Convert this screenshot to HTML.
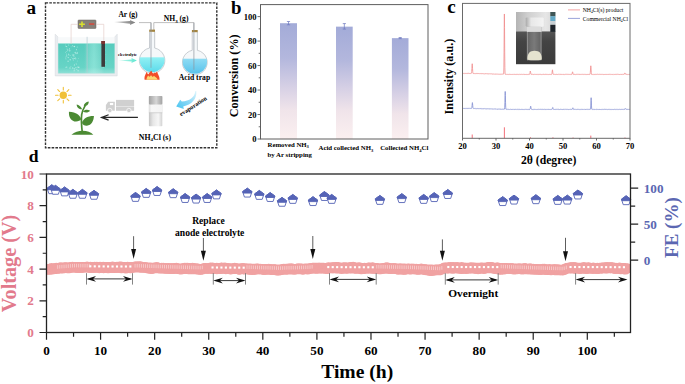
<!DOCTYPE html>
<html><head><meta charset="utf-8"><style>
html,body{margin:0;padding:0;background:#fff;width:685px;height:384px;overflow:hidden;}
svg{display:block;}
</style></head><body>
<svg width="685" height="384" viewBox="0 0 685 384">
<rect width="685" height="384" fill="#fff"/>
<g id="pa">
<text x="26.6" y="13.6" font-size="19.2" font-family="Liberation Serif" font-weight="bold">a</text>
<rect x="45.5" y="2.9" width="171.3" height="144.9" fill="none" stroke="#333" stroke-width="1.4" stroke-dasharray="2.6 1.2"/>
<rect x="78" y="20" width="18" height="8.5" rx="0.8" fill="#868079" stroke="#6a655f" stroke-width="0.5"/>
<path d="M79.1,24.2 h5.8 M82,21.4 v5.6" stroke="#d9e02e" stroke-width="1.6"/>
<path d="M89,24.05 h5.3" stroke="#d8483a" stroke-width="1.5"/>
<path d="M55.2,34.2 L58.2,37.2 V73.4 H114.6 V37.2 L117.2,34.2 V75.9 H55.2 Z" fill="#eaedf0" stroke="#d2d7db" stroke-width="0.5"/>
<rect x="58.2" y="37.2" width="56.4" height="6.4" fill="#f7f9fa"/>
<defs><linearGradient id="wat" x1="0" y1="0" x2="0" y2="1"><stop offset="0" stop-color="#57cbbd"/><stop offset="0.8" stop-color="#66d4c6"/><stop offset="1" stop-color="#8fe0d6"/></linearGradient><linearGradient id="wat2" x1="0" y1="0" x2="1" y2="0"><stop offset="0" stop-color="#fff" stop-opacity="0"/><stop offset="0.5" stop-color="#c8fff6" stop-opacity="0.35"/><stop offset="1" stop-color="#fff" stop-opacity="0"/></linearGradient></defs>
<rect x="58.2" y="43.4" width="56.4" height="30" fill="url(#wat)"/>
<rect x="84" y="43.4" width="20" height="30" fill="url(#wat2)"/>
<rect x="58.2" y="43.1" width="56.4" height="0.8" fill="#a6e6dc"/>
<circle cx="69.5" cy="48.9" r="0.58" fill="#c2f0ea" opacity="0.8"/>
<circle cx="66.0" cy="58.9" r="0.48" fill="#c2f0ea" opacity="0.8"/>
<circle cx="65.8" cy="58.2" r="0.36" fill="#c2f0ea" opacity="0.8"/>
<circle cx="71.1" cy="46.8" r="0.38" fill="#c2f0ea" opacity="0.8"/>
<circle cx="70.9" cy="66.5" r="0.39" fill="#c2f0ea" opacity="0.8"/>
<circle cx="68.1" cy="61.3" r="0.68" fill="#c2f0ea" opacity="0.8"/>
<circle cx="73.1" cy="55.3" r="0.69" fill="#c2f0ea" opacity="0.8"/>
<circle cx="65.7" cy="67.3" r="0.45" fill="#c2f0ea" opacity="0.8"/>
<circle cx="67.0" cy="48.1" r="0.46" fill="#c2f0ea" opacity="0.8"/>
<circle cx="76.4" cy="49.7" r="0.55" fill="#c2f0ea" opacity="0.8"/>
<circle cx="73.9" cy="54.7" r="0.54" fill="#c2f0ea" opacity="0.8"/>
<circle cx="65.9" cy="46.5" r="0.42" fill="#c2f0ea" opacity="0.8"/>
<circle cx="74.5" cy="56.1" r="0.46" fill="#c2f0ea" opacity="0.8"/>
<circle cx="73.2" cy="56.8" r="0.45" fill="#c2f0ea" opacity="0.8"/>
<circle cx="76.1" cy="63.2" r="0.44" fill="#c2f0ea" opacity="0.8"/>
<circle cx="73.0" cy="58.7" r="0.66" fill="#c2f0ea" opacity="0.8"/>
<circle cx="75.2" cy="52.5" r="0.69" fill="#c2f0ea" opacity="0.8"/>
<circle cx="66.7" cy="55.9" r="0.61" fill="#c2f0ea" opacity="0.8"/>
<circle cx="67.1" cy="57.7" r="0.36" fill="#c2f0ea" opacity="0.8"/>
<circle cx="74.4" cy="64.9" r="0.55" fill="#c2f0ea" opacity="0.8"/>
<circle cx="77.3" cy="53.2" r="0.59" fill="#c2f0ea" opacity="0.8"/>
<circle cx="73.3" cy="60.1" r="0.51" fill="#c2f0ea" opacity="0.8"/>
<circle cx="76.8" cy="69.6" r="0.52" fill="#c2f0ea" opacity="0.8"/>
<circle cx="74.3" cy="46.6" r="0.60" fill="#c2f0ea" opacity="0.8"/>
<circle cx="74.1" cy="70.8" r="0.64" fill="#c2f0ea" opacity="0.8"/>
<circle cx="69.0" cy="55.0" r="0.58" fill="#c2f0ea" opacity="0.8"/>
<circle cx="65.3" cy="57.0" r="0.41" fill="#c2f0ea" opacity="0.8"/>
<circle cx="66.6" cy="46.5" r="0.62" fill="#c2f0ea" opacity="0.8"/>
<circle cx="66.8" cy="51.4" r="0.49" fill="#c2f0ea" opacity="0.8"/>
<circle cx="77.2" cy="47.1" r="0.51" fill="#c2f0ea" opacity="0.8"/>
<circle cx="72.7" cy="68.0" r="0.64" fill="#c2f0ea" opacity="0.8"/>
<circle cx="77.1" cy="52.2" r="0.50" fill="#c2f0ea" opacity="0.8"/>
<circle cx="70.0" cy="68.0" r="0.69" fill="#c2f0ea" opacity="0.8"/>
<circle cx="67.1" cy="49.6" r="0.43" fill="#c2f0ea" opacity="0.8"/>
<circle cx="68.3" cy="57.6" r="0.56" fill="#c2f0ea" opacity="0.8"/>
<circle cx="68.7" cy="45.1" r="0.50" fill="#c2f0ea" opacity="0.8"/>
<circle cx="70.2" cy="59.7" r="0.68" fill="#c2f0ea" opacity="0.8"/>
<circle cx="74.7" cy="58.4" r="0.57" fill="#c2f0ea" opacity="0.8"/>
<circle cx="74.5" cy="46.4" r="0.66" fill="#c2f0ea" opacity="0.8"/>
<circle cx="75.9" cy="67.7" r="0.63" fill="#c2f0ea" opacity="0.8"/>
<circle cx="70.5" cy="55.4" r="0.39" fill="#c2f0ea" opacity="0.8"/>
<circle cx="73.9" cy="46.6" r="0.37" fill="#c2f0ea" opacity="0.8"/>
<circle cx="67.9" cy="49.2" r="0.47" fill="#c2f0ea" opacity="0.8"/>
<circle cx="65.7" cy="45.0" r="0.40" fill="#c2f0ea" opacity="0.8"/>
<circle cx="66.4" cy="54.5" r="0.36" fill="#c2f0ea" opacity="0.8"/>
<circle cx="77.2" cy="61.0" r="0.40" fill="#c2f0ea" opacity="0.8"/>
<circle cx="68.5" cy="54.0" r="0.48" fill="#c2f0ea" opacity="0.8"/>
<circle cx="66.7" cy="67.1" r="0.70" fill="#c2f0ea" opacity="0.8"/>
<circle cx="71.5" cy="57.6" r="0.38" fill="#c2f0ea" opacity="0.8"/>
<circle cx="66.4" cy="53.9" r="0.44" fill="#c2f0ea" opacity="0.8"/>
<circle cx="76.6" cy="49.2" r="0.36" fill="#c2f0ea" opacity="0.8"/>
<circle cx="78.3" cy="58.7" r="0.40" fill="#c2f0ea" opacity="0.8"/>
<circle cx="72.6" cy="45.7" r="0.53" fill="#c2f0ea" opacity="0.8"/>
<circle cx="78.7" cy="67.4" r="0.59" fill="#c2f0ea" opacity="0.8"/>
<circle cx="68.7" cy="54.5" r="0.41" fill="#c2f0ea" opacity="0.8"/>
<circle cx="75.8" cy="58.8" r="0.62" fill="#c2f0ea" opacity="0.8"/>
<circle cx="69.6" cy="50.8" r="0.63" fill="#c2f0ea" opacity="0.8"/>
<circle cx="78.8" cy="67.2" r="0.63" fill="#c2f0ea" opacity="0.8"/>
<circle cx="76.5" cy="64.2" r="0.43" fill="#c2f0ea" opacity="0.8"/>
<circle cx="72.2" cy="54.2" r="0.36" fill="#c2f0ea" opacity="0.8"/>
<circle cx="65.4" cy="52.3" r="0.44" fill="#c2f0ea" opacity="0.8"/>
<circle cx="74.7" cy="69.9" r="0.51" fill="#c2f0ea" opacity="0.8"/>
<circle cx="78.1" cy="70.7" r="0.68" fill="#c2f0ea" opacity="0.8"/>
<circle cx="70.1" cy="50.7" r="0.43" fill="#c2f0ea" opacity="0.8"/>
<circle cx="67.8" cy="50.3" r="0.57" fill="#c2f0ea" opacity="0.8"/>
<circle cx="77.6" cy="66.9" r="0.52" fill="#c2f0ea" opacity="0.8"/>
<circle cx="74.1" cy="65.8" r="0.38" fill="#c2f0ea" opacity="0.8"/>
<circle cx="74.2" cy="68.7" r="0.62" fill="#c2f0ea" opacity="0.8"/>
<circle cx="75.5" cy="57.4" r="0.41" fill="#c2f0ea" opacity="0.8"/>
<circle cx="76.0" cy="53.6" r="0.63" fill="#c2f0ea" opacity="0.8"/>
<circle cx="105.9" cy="54.5" r="0.35" fill="#b8ece4" opacity="0.7"/>
<circle cx="103.0" cy="67.7" r="0.35" fill="#b8ece4" opacity="0.7"/>
<circle cx="104.6" cy="49.1" r="0.35" fill="#b8ece4" opacity="0.7"/>
<circle cx="101.6" cy="48.6" r="0.35" fill="#b8ece4" opacity="0.7"/>
<circle cx="105.5" cy="64.4" r="0.35" fill="#b8ece4" opacity="0.7"/>
<circle cx="101.7" cy="64.8" r="0.35" fill="#b8ece4" opacity="0.7"/>
<circle cx="105.9" cy="60.8" r="0.35" fill="#b8ece4" opacity="0.7"/>
<circle cx="102.8" cy="58.2" r="0.35" fill="#b8ece4" opacity="0.7"/>
<circle cx="101.7" cy="45.3" r="0.35" fill="#b8ece4" opacity="0.7"/>
<circle cx="105.9" cy="60.6" r="0.35" fill="#b8ece4" opacity="0.7"/>
<circle cx="103.6" cy="67.4" r="0.35" fill="#b8ece4" opacity="0.7"/>
<circle cx="103.2" cy="65.9" r="0.35" fill="#b8ece4" opacity="0.7"/>
<circle cx="105.1" cy="50.1" r="0.35" fill="#b8ece4" opacity="0.7"/>
<circle cx="102.3" cy="52.0" r="0.35" fill="#b8ece4" opacity="0.7"/>
<circle cx="102.2" cy="59.1" r="0.35" fill="#b8ece4" opacity="0.7"/>
<circle cx="102.3" cy="55.1" r="0.35" fill="#b8ece4" opacity="0.7"/>
<circle cx="101.7" cy="66.8" r="0.35" fill="#b8ece4" opacity="0.7"/>
<circle cx="102.8" cy="56.0" r="0.35" fill="#b8ece4" opacity="0.7"/>
<circle cx="103.9" cy="66.7" r="0.35" fill="#b8ece4" opacity="0.7"/>
<circle cx="103.1" cy="67.0" r="0.35" fill="#b8ece4" opacity="0.7"/>
<circle cx="103.5" cy="57.8" r="0.35" fill="#b8ece4" opacity="0.7"/>
<circle cx="103.6" cy="45.4" r="0.35" fill="#b8ece4" opacity="0.7"/>
<circle cx="103.2" cy="49.4" r="0.35" fill="#b8ece4" opacity="0.7"/>
<circle cx="101.0" cy="64.2" r="0.35" fill="#b8ece4" opacity="0.7"/>
<circle cx="101.9" cy="56.4" r="0.35" fill="#b8ece4" opacity="0.7"/>
<path d="M87.1,36.8 V72.8" stroke="#b7ccd2" stroke-width="0.7"/>
<path d="M78,24.3 H71.1 V44 M96,24.3 H103.8 V41" fill="none" stroke="#e3cbc6" stroke-width="0.65"/>
<rect x="101.4" y="41" width="3.6" height="25.8" fill="#3c3b3b"/>
<rect x="101.4" y="41" width="3.6" height="3" fill="#7c3230"/>
<defs><linearGradient id="ga" x1="0" y1="0" x2="1" y2="0"><stop offset="0" stop-color="#d8d8d8"/><stop offset="0.6" stop-color="#9a9a9a"/><stop offset="1" stop-color="#7c7c7c"/></linearGradient></defs>
<path d="M114,21.9 L130.2,21.0 L129.9,20.0 L135.4,22.45 L129.9,24.9 L130.2,23.8 Z" fill="url(#ga)"/>
<text x="118.4" y="17.4" font-size="7.5" font-family="Liberation Serif" font-weight="bold">Ar (g)</text>
<text x="118" y="56" font-size="4.3" font-family="Liberation Serif" font-weight="bold">electrolyte</text>
<defs><linearGradient id="ea" x1="0" y1="0" x2="1" y2="0"><stop offset="0" stop-color="#d6faf2"/><stop offset="0.6" stop-color="#86eedd"/><stop offset="1" stop-color="#5ee6d0"/></linearGradient></defs>
<path d="M118.3,60.4 L131.8,59.4 L131.4,57.9 L136.9,60.4 L131.4,62.9 L131.8,61.5 Z" fill="url(#ea)"/>
<path d="M139,22.6 H151 V67.8 M153.8,48.7 V22.6 H193.9 V69.7" fill="none" stroke="#aeaeae" stroke-width="0.8"/>
<defs><linearGradient id="fw" x1="0" y1="0" x2="0" y2="1"><stop offset="0" stop-color="#92f1f4"/><stop offset="1" stop-color="#5cd9ea"/></linearGradient><linearGradient id="fw2" x1="0" y1="0" x2="0" y2="1"><stop offset="0" stop-color="#8fdcf4"/><stop offset="1" stop-color="#58c2ea"/></linearGradient><clipPath id="c1"><circle cx="152.1" cy="59.6" r="12.6"/></clipPath><clipPath id="c2"><circle cx="194.8" cy="61.5" r="12.3"/></clipPath></defs>
<path d="M149.5,31.6 V48.050000000000004 A12.75,12.75 0 1 0 154.7,48.050000000000004 V31.6" fill="#f5f8fa" stroke="#a7afb6" stroke-width="0.6"/>
<rect x="139.35" y="57.3" width="25.5" height="15.049999999999997" fill="url(#fw)" clip-path="url(#c1)"/>
<rect x="149.2" y="29.6" width="5.8" height="2.2" fill="#a3843f"/>
<path d="M192.20000000000002,32.0 V50.300000000000004 A12.4,12.4 0 1 0 197.4,50.300000000000004 V32.0" fill="#f5f8fa" stroke="#a7afb6" stroke-width="0.6"/>
<rect x="182.4" y="58.7" width="24.8" height="15.200000000000003" fill="url(#fw2)" clip-path="url(#c2)"/>
<rect x="191.9" y="30.0" width="5.8" height="2.2" fill="#a3843f"/>
<path d="M151,22.6 V67.8 M193.9,22.6 V69.7" stroke="#8f979e" stroke-width="0.7"/>
<path d="M144.6,79.7 C144,76 146,74 146.5,71.8 C147.5,74 148.5,75 149,73.5 C149.6,72 150.5,71.5 151.6,70.8 C152,73 153.5,74.5 154.5,72.6 C155.5,73.5 156.2,72.8 157,71.5 C157.5,74 159.8,76 159.6,79.7 Z" fill="#f24e2a"/>
<path d="M146.5,79.7 C146.5,77.5 147.5,76.5 148.2,75.5 C149,77 150,77.3 151,75 C152,77 153,77.5 154,75.8 C155,77 157.5,78 157.6,79.7 Z" fill="#fbd873"/>
<text x="163.8" y="21.3" font-size="7.6" font-family="Liberation Serif" font-weight="bold">NH<tspan font-size="5" dy="1.5">3</tspan><tspan dy="-1.5"> (g)</tspan></text>
<text x="178.8" y="80.3" font-size="7.7" font-family="Liberation Serif" font-weight="bold">Acid trap</text>
<circle cx="63.3" cy="95.2" r="3.7" fill="#f0c138"/>
<path d="M68.50,95.20 L71.10,95.20 M66.98,98.88 L68.82,100.72 M63.30,100.40 L63.30,103.00 M59.62,98.88 L57.78,100.72 M58.10,95.20 L55.50,95.20 M59.62,91.52 L57.78,89.68 M63.30,90.00 L63.30,87.40 M66.98,91.52 L68.82,89.68" stroke="#f0c138" stroke-width="1.1" stroke-linecap="round"/>
<path d="M71.46,134.67 C74.38,131.85 78.54,130.81 82.71,130.71 C86.88,130.81 91.04,131.85 93.33,134.67 Z" fill="#4b8a33"/>
<path d="M82.29,132.58 C81.67,127.17 81.15,118.83 81.67,114.67 C82.19,110.50 83.75,107.90 85.31,105.29" fill="none" stroke="#4b8a33" stroke-width="1.7"/>
<path d="M81.15,119.35 C79.58,114.67 76.46,112.58 68.96,111.85 C68.65,116.23 70.21,120.40 74.38,121.44 C77.50,121.96 80.10,120.92 81.15,119.35 Z" fill="#4b8a33"/>
<path d="M81.98,123.00 C83.23,118.31 87.40,115.92 93.96,116.02 C93.65,120.92 91.56,125.29 86.88,125.71 C84.27,125.81 82.50,124.56 81.98,123.00 Z" fill="#4b8a33"/>
<path d="M82.19,109.25 C80.62,106.33 79.06,104.77 76.67,104.46 C76.67,107.38 79.06,109.46 82.19,109.25 Z" fill="#4b8a33"/>
<path d="M82.92,111.54 C84.79,109.46 87.40,109.25 90.21,110.71 C88.44,112.58 85.31,113.10 82.92,111.54 Z" fill="#4b8a33"/>
<path d="M83.75,106.33 C83.75,103.73 85.83,101.96 88.75,101.44 C88.75,104.25 86.88,106.33 83.75,106.33 Z" fill="#4b8a33"/>
<rect x="116" y="99.9" width="18.1" height="6.6" fill="#d0d0d0"/>
<rect x="116" y="106.9" width="18.1" height="3.9" fill="#d0d0d0"/>
<path d="M105.9,110.8 V105 L108.2,101.8 H114.8 V110.8 Z" fill="#d0d0d0"/>
<rect x="109.9" y="103" width="3.3" height="2.1" fill="#fff"/>
<circle cx="109.8" cy="110.5" r="2.2" fill="#d0d0d0" stroke="#fff" stroke-width="0.7"/><circle cx="128.9" cy="110.5" r="2.2" fill="#d0d0d0" stroke="#fff" stroke-width="0.7"/>
<path d="M137.9,117.4 H101.8 M108.6,114.8 L101.5,117.4 L108.6,120.1" fill="none" stroke="#262626" stroke-width="1.2"/>
<defs><linearGradient id="vb" x1="0" y1="0" x2="1" y2="0"><stop offset="0" stop-color="#c4c4c4"/><stop offset="0.3" stop-color="#e6e6e6"/><stop offset="0.7" stop-color="#f6f6f6"/><stop offset="1" stop-color="#d2d2d2"/></linearGradient><linearGradient id="vu" x1="0" y1="0" x2="1" y2="0"><stop offset="0" stop-color="#dedede"/><stop offset="0.2" stop-color="#f7f7f7"/><stop offset="1" stop-color="#f3f3f3"/></linearGradient><linearGradient id="vc" x1="0" y1="0" x2="1" y2="0"><stop offset="0" stop-color="#a2a2a2"/><stop offset="0.35" stop-color="#c4c4c4"/><stop offset="0.55" stop-color="#d6d6d6"/><stop offset="0.75" stop-color="#bdbdbd"/><stop offset="1" stop-color="#a4a4a4"/></linearGradient></defs>
<rect x="148.9" y="96" width="13.4" height="30.2" rx="0.8" fill="url(#vb)"/>
<rect x="148.9" y="104.3" width="13.4" height="8.3" fill="url(#vu)"/>
<rect x="148.9" y="96" width="13.4" height="8.4" rx="0.8" fill="url(#vc)"/>
<rect x="148.9" y="112.5" width="13.4" height="0.7" fill="#c6c6c6"/>
<defs><linearGradient id="ca" x1="1" y1="0" x2="0" y2="1"><stop offset="0" stop-color="#e0f6fd"/><stop offset="0.5" stop-color="#8ad8f6"/><stop offset="1" stop-color="#48c4f0"/></linearGradient></defs>
<path d="M195.2,91.2 C194.8,97.5 189.5,100.8 181.8,101.6 L180.2,99.8 L176.2,106.4 L183.9,108.9 L183.2,106.4 C191.5,104.8 197.2,99 196.3,91.0 Z" fill="url(#ca)"/>
<text transform="translate(181.1,116.3) rotate(-33)" font-size="6.1" font-family="Liberation Serif" font-weight="bold">evaporation</text>
<text x="138.8" y="139.9" font-size="7.8" font-family="Liberation Serif" font-weight="bold">NH<tspan font-size="5" dy="1.5">4</tspan><tspan dy="-1.5">Cl (s)</tspan></text>
</g>
<g id="pb">
<text x="231" y="13.8" font-size="18.8" font-family="Liberation Serif" font-weight="bold">b</text>
<defs><linearGradient id="bg" x1="0" y1="0" x2="0" y2="1"><stop offset="0" stop-color="#a3abd8"/><stop offset="0.3" stop-color="#b3b7dd"/><stop offset="0.55" stop-color="#d6d0e5"/><stop offset="0.75" stop-color="#f0e4ea"/><stop offset="1" stop-color="#fbf0f0"/></linearGradient></defs>
<rect x="280" y="23.21" width="17.00" height="115.79" fill="url(#bg)"/>
<path d="M288.50,21.50 V24.80 M286.90,21.50 h3.2 M286.90,24.80 h3.2" stroke="#6c77bf" stroke-width="0.7"/>
<rect x="336" y="26.64" width="16.70" height="112.36" fill="url(#bg)"/>
<path d="M344.35,23.58 V29.08 M342.75,23.58 h3.2 M342.75,29.08 h3.2" stroke="#6c77bf" stroke-width="0.7"/>
<rect x="391.9" y="38.14" width="16.60" height="100.86" fill="url(#bg)"/>
<path d="M400.20,37.53 V38.63 M398.60,37.53 h3.2 M398.60,38.63 h3.2" stroke="#6c77bf" stroke-width="0.7"/>
<rect x="260.5" y="4.6" width="167.5" height="134.4" fill="none" stroke="#5e5e5e" stroke-width="1"/>
<path d="M260.5,139.00 h-3 M260.5,126.76 h-1.8 M260.5,114.52 h-3 M260.5,102.28 h-1.8 M260.5,90.04 h-3 M260.5,77.80 h-1.8 M260.5,65.56 h-3 M260.5,53.32 h-1.8 M260.5,41.08 h-3 M260.5,28.84 h-1.8 M260.5,16.60 h-3" stroke="#5e5e5e" stroke-width="0.9"/>
<text x="256.6" y="142.00" font-size="8.6" text-anchor="end" font-family="Liberation Serif" font-weight="bold">0</text>
<text x="256.6" y="117.52" font-size="8.6" text-anchor="end" font-family="Liberation Serif" font-weight="bold">20</text>
<text x="256.6" y="93.04" font-size="8.6" text-anchor="end" font-family="Liberation Serif" font-weight="bold">40</text>
<text x="256.6" y="68.56" font-size="8.6" text-anchor="end" font-family="Liberation Serif" font-weight="bold">60</text>
<text x="256.6" y="44.08" font-size="8.6" text-anchor="end" font-family="Liberation Serif" font-weight="bold">80</text>
<text x="256.6" y="19.60" font-size="8.6" text-anchor="end" font-family="Liberation Serif" font-weight="bold">100</text>
<text transform="translate(238.3,75.8) rotate(-90)" font-size="12.2" text-anchor="middle" font-family="Liberation Serif" font-weight="bold">Conversion (%)</text>
<text x="267.5" y="147.0" font-size="6.8" font-family="Liberation Serif" font-weight="bold">Removed NH<tspan font-size="4.6" dy="1.3">3</tspan></text>
<text x="267.5" y="156.7" font-size="6.8" font-family="Liberation Serif" font-weight="bold">by Ar stripping</text>
<text x="318.5" y="150.2" font-size="6.8" font-family="Liberation Serif" font-weight="bold">Acid collected NH<tspan font-size="4.6" dy="1.3">3</tspan></text>
<text x="380.2" y="150.2" font-size="6.8" font-family="Liberation Serif" font-weight="bold">Collected NH<tspan font-size="4.6" dy="1.3">4</tspan><tspan dy="-1.3">Cl</tspan></text>
</g>
<g id="pc">
<text x="447.3" y="13" font-size="19" font-family="Liberation Serif" font-weight="bold">c</text>
<path d="M462.50,73.46 L462.67,73.41 L462.83,73.36 L463.00,73.40 L463.17,73.41 L463.34,73.47 L463.50,73.30 L463.67,73.42 L463.84,73.34 L464.01,73.34 L464.18,73.47 L464.34,73.40 L464.51,73.42 L464.68,73.46 L464.85,73.50 L465.01,73.39 L465.18,73.43 L465.35,73.40 L465.52,73.40 L465.68,73.45 L465.85,73.39 L466.02,73.41 L466.19,73.39 L466.35,73.51 L466.52,73.45 L466.69,73.49 L466.86,73.51 L467.02,73.34 L467.19,73.41 L467.36,73.51 L467.53,73.48 L467.69,73.31 L467.86,73.31 L468.03,73.39 L468.20,73.29 L468.36,73.34 L468.53,73.29 L468.70,73.44 L468.87,73.47 L469.03,73.50 L469.20,73.31 L469.37,73.46 L469.54,73.45 L469.70,73.32 L469.87,73.51 L470.04,73.54 L470.21,73.35 L470.37,73.54 L470.54,73.41 L470.71,73.43 L470.88,73.56 L471.04,73.53 L471.21,73.35 L471.38,73.31 L471.55,72.85 L471.71,71.37 L471.88,68.50 L472.05,65.19 L472.22,63.73 L472.38,65.12 L472.55,68.60 L472.72,71.42 L472.89,72.76 L473.05,73.33 L473.22,73.51 L473.39,73.51 L473.56,73.40 L473.72,73.63 L473.89,73.59 L474.06,73.64 L474.23,73.43 L474.39,73.47 L474.56,73.42 L474.73,73.61 L474.90,73.48 L475.06,73.45 L475.23,73.53 L475.40,73.66 L475.57,73.64 L475.73,73.50 L475.90,73.48 L476.07,73.68 L476.24,73.59 L476.40,73.63 L476.57,73.48 L476.74,73.48 L476.91,73.64 L477.07,73.58 L477.24,73.49 L477.41,73.71 L477.58,73.64 L477.74,73.69 L477.91,73.51 L478.08,73.71 L478.25,73.52 L478.41,73.72 L478.58,73.62 L478.75,73.60 L478.92,73.65 L479.08,73.75 L479.25,73.59 L479.42,73.56 L479.59,73.67 L479.75,73.60 L479.92,73.57 L480.09,73.59 L480.26,73.56 L480.42,73.60 L480.59,73.64 L480.76,73.64 L480.93,73.76 L481.09,73.64 L481.26,73.70 L481.43,73.62 L481.60,73.67 L481.76,73.59 L481.93,73.65 L482.10,73.60 L482.27,73.78 L482.43,73.74 L482.60,73.66 L482.77,73.73 L482.94,73.85 L483.10,73.65 L483.27,73.83 L483.44,73.74 L483.61,73.76 L483.77,73.85 L483.94,73.74 L484.11,73.77 L484.28,73.82 L484.44,73.90 L484.61,73.74 L484.78,73.87 L484.95,73.84 L485.11,73.83 L485.28,73.78 L485.45,73.77 L485.62,73.70 L485.78,73.72 L485.95,73.71 L486.12,73.88 L486.29,73.76 L486.45,73.74 L486.62,73.73 L486.79,73.92 L486.96,73.93 L487.12,73.89 L487.29,73.80 L487.46,73.79 L487.63,73.81 L487.79,73.85 L487.96,73.78 L488.13,73.86 L488.30,73.82 L488.46,73.99 L488.63,74.00 L488.80,73.90 L488.97,73.83 L489.13,74.01 L489.30,73.85 L489.47,73.87 L489.64,73.78 L489.80,73.88 L489.97,73.91 L490.14,73.92 L490.31,73.85 L490.47,73.93 L490.64,73.81 L490.81,73.88 L490.98,73.84 L491.14,73.92 L491.31,73.84 L491.48,73.83 L491.65,73.91 L491.81,73.90 L491.98,73.99 L492.15,73.98 L492.32,74.04 L492.48,74.02 L492.65,74.04 L492.82,74.08 L492.99,73.96 L493.15,73.95 L493.32,74.12 L493.49,73.92 L493.66,74.06 L493.82,74.05 L493.99,73.90 L494.16,74.10 L494.33,74.12 L494.49,74.06 L494.66,74.09 L494.83,74.12 L495.00,73.95 L495.16,74.05 L495.33,74.05 L495.50,74.14 L495.67,74.13 L495.83,74.14 L496.00,74.09 L496.17,74.17 L496.34,74.12 L496.50,74.13 L496.67,74.02 L496.84,73.97 L497.01,74.00 L497.17,74.06 L497.34,74.00 L497.51,74.19 L497.68,74.12 L497.84,74.14 L498.01,74.15 L498.18,74.17 L498.35,74.12 L498.51,74.00 L498.68,74.21 L498.85,74.20 L499.02,74.14 L499.18,74.15 L499.35,74.19 L499.52,74.05 L499.69,74.22 L499.85,74.10 L500.02,74.06 L500.19,74.11 L500.36,74.23 L500.52,74.11 L500.69,74.24 L500.86,74.31 L501.03,74.19 L501.19,74.17 L501.36,74.19 L501.53,74.25 L501.70,74.28 L501.86,74.24 L502.03,74.25 L502.20,74.12 L502.37,74.14 L502.53,74.17 L502.70,74.29 L502.87,74.19 L503.04,74.26 L503.20,74.12 L503.37,74.13 L503.54,74.08 L503.71,73.20 L503.87,67.95 L504.04,52.13 L504.21,27.26 L504.38,13.98 L504.54,27.31 L504.71,52.09 L504.88,67.84 L505.05,73.29 L505.21,74.10 L505.38,74.41 L505.55,74.41 L505.72,74.19 L505.88,74.30 L506.05,74.40 L506.22,74.44 L506.39,74.31 L506.55,74.27 L506.72,74.26 L506.89,74.45 L507.06,74.27 L507.22,74.37 L507.39,74.26 L507.56,74.36 L507.73,74.47 L507.89,74.27 L508.06,74.45 L508.23,74.37 L508.40,74.47 L508.56,74.43 L508.73,74.32 L508.90,74.49 L509.07,74.39 L509.23,74.28 L509.40,74.28 L509.57,74.40 L509.74,74.39 L509.90,74.35 L510.07,74.31 L510.24,74.36 L510.41,74.35 L510.57,74.49 L510.74,74.28 L510.91,74.46 L511.08,74.48 L511.24,74.31 L511.41,74.51 L511.58,74.45 L511.75,74.50 L511.91,74.35 L512.08,74.37 L512.25,74.37 L512.41,74.52 L512.58,74.42 L512.75,74.37 L512.92,74.38 L513.09,74.34 L513.25,74.29 L513.42,74.30 L513.59,74.48 L513.75,74.35 L513.92,74.51 L514.09,74.34 L514.26,74.34 L514.42,74.40 L514.59,74.32 L514.76,74.37 L514.93,74.51 L515.09,74.50 L515.26,74.48 L515.43,74.43 L515.60,74.50 L515.76,74.51 L515.93,74.41 L516.10,74.45 L516.27,74.29 L516.43,74.46 L516.60,74.39 L516.77,74.46 L516.94,74.44 L517.10,74.35 L517.27,74.29 L517.44,74.51 L517.61,74.31 L517.77,74.39 L517.94,74.36 L518.11,74.35 L518.28,74.46 L518.44,74.52 L518.61,74.34 L518.78,74.44 L518.95,74.35 L519.11,74.41 L519.28,74.37 L519.45,74.32 L519.62,74.32 L519.78,74.33 L519.95,74.50 L520.12,74.40 L520.29,74.33 L520.45,74.50 L520.62,74.52 L520.79,74.39 L520.96,74.31 L521.12,74.32 L521.29,74.30 L521.46,74.36 L521.63,74.30 L521.79,74.33 L521.96,74.34 L522.13,74.42 L522.30,74.50 L522.46,74.46 L522.63,74.38 L522.80,74.38 L522.97,74.41 L523.13,74.37 L523.30,74.36 L523.47,74.29 L523.64,74.34 L523.80,74.52 L523.97,74.31 L524.14,74.40 L524.31,74.43 L524.47,74.49 L524.64,74.33 L524.81,74.34 L524.98,74.34 L525.14,74.37 L525.31,74.39 L525.48,74.51 L525.65,74.49 L525.81,74.49 L525.98,74.28 L526.15,74.28 L526.32,74.45 L526.48,74.50 L526.65,74.39 L526.82,74.42 L526.99,74.28 L527.15,74.37 L527.32,74.51 L527.49,74.48 L527.66,74.49 L527.82,74.52 L527.99,74.34 L528.16,74.30 L528.33,74.31 L528.49,74.41 L528.66,74.45 L528.83,74.51 L529.00,74.46 L529.16,74.44 L529.33,74.46 L529.50,74.34 L529.67,74.20 L529.83,73.55 L530.00,72.72 L530.17,71.39 L530.34,71.00 L530.50,71.49 L530.67,72.60 L530.84,73.57 L531.01,74.12 L531.17,74.39 L531.34,74.44 L531.51,74.30 L531.68,74.29 L531.84,74.41 L532.01,74.42 L532.18,74.37 L532.35,74.33 L532.51,74.43 L532.68,74.28 L532.85,74.35 L533.02,74.39 L533.18,74.51 L533.35,74.44 L533.52,74.50 L533.69,74.39 L533.85,74.33 L534.02,74.34 L534.19,74.52 L534.36,74.45 L534.52,74.35 L534.69,74.28 L534.86,74.40 L535.03,74.44 L535.19,74.38 L535.36,74.34 L535.53,74.44 L535.70,74.51 L535.86,74.33 L536.03,74.28 L536.20,74.36 L536.37,74.38 L536.53,74.45 L536.70,74.32 L536.87,74.47 L537.04,74.46 L537.20,74.40 L537.37,74.33 L537.54,74.52 L537.71,74.35 L537.87,74.48 L538.04,74.33 L538.21,74.33 L538.38,74.47 L538.54,74.35 L538.71,74.51 L538.88,74.40 L539.05,74.32 L539.21,74.33 L539.38,74.38 L539.55,74.44 L539.72,74.51 L539.88,74.31 L540.05,74.37 L540.22,74.33 L540.39,74.52 L540.55,74.31 L540.72,74.29 L540.89,74.29 L541.06,74.37 L541.22,74.50 L541.39,74.50 L541.56,74.46 L541.73,74.52 L541.89,74.51 L542.06,74.36 L542.23,74.32 L542.40,74.51 L542.56,74.46 L542.73,74.28 L542.90,74.44 L543.07,74.37 L543.23,74.37 L543.40,74.36 L543.57,74.32 L543.74,74.28 L543.90,74.34 L544.07,74.36 L544.24,74.51 L544.41,74.31 L544.57,74.52 L544.74,74.33 L544.91,74.36 L545.08,74.48 L545.24,74.48 L545.41,74.38 L545.58,74.29 L545.75,74.39 L545.91,74.37 L546.08,74.50 L546.25,74.32 L546.42,74.37 L546.58,74.50 L546.75,74.28 L546.92,74.38 L547.09,74.48 L547.25,74.47 L547.42,74.29 L547.59,74.28 L547.76,74.29 L547.92,74.51 L548.09,74.34 L548.26,74.46 L548.43,74.50 L548.59,74.36 L548.76,74.34 L548.93,74.51 L549.10,74.43 L549.26,74.34 L549.43,74.45 L549.60,74.35 L549.77,74.34 L549.93,74.28 L550.10,74.46 L550.27,74.50 L550.44,74.43 L550.60,74.51 L550.77,74.28 L550.94,74.33 L551.11,74.39 L551.27,74.51 L551.44,74.50 L551.61,74.31 L551.78,74.06 L551.94,73.44 L552.11,72.15 L552.28,70.72 L552.45,69.82 L552.61,70.69 L552.78,72.21 L552.95,73.54 L553.12,74.19 L553.28,74.37 L553.45,74.35 L553.62,74.35 L553.79,74.37 L553.95,74.47 L554.12,74.29 L554.29,74.32 L554.46,74.46 L554.62,74.34 L554.79,74.29 L554.96,74.28 L555.13,74.41 L555.29,74.36 L555.46,74.52 L555.63,74.50 L555.80,74.52 L555.96,74.34 L556.13,74.30 L556.30,74.30 L556.47,74.40 L556.63,74.45 L556.80,74.39 L556.97,74.33 L557.14,74.38 L557.30,74.43 L557.47,74.44 L557.64,74.46 L557.81,74.49 L557.97,74.44 L558.14,74.31 L558.31,74.49 L558.48,74.35 L558.64,74.42 L558.81,74.37 L558.98,74.46 L559.15,74.32 L559.31,74.34 L559.48,74.34 L559.65,74.31 L559.82,74.50 L559.98,74.42 L560.15,74.36 L560.32,74.37 L560.49,74.52 L560.65,74.40 L560.82,74.33 L560.99,74.48 L561.16,74.44 L561.32,74.52 L561.49,74.30 L561.66,74.39 L561.83,74.48 L561.99,74.49 L562.16,74.50 L562.33,74.29 L562.50,74.35 L562.66,74.30 L562.83,74.32 L563.00,74.52 L563.17,74.42 L563.33,74.51 L563.50,74.37 L563.67,74.49 L563.84,74.39 L564.00,74.34 L564.17,74.47 L564.34,74.51 L564.51,74.30 L564.67,74.42 L564.84,74.43 L565.01,74.33 L565.18,74.37 L565.34,74.31 L565.51,74.33 L565.68,74.34 L565.85,74.42 L566.01,74.44 L566.18,74.33 L566.35,74.28 L566.52,74.36 L566.68,74.44 L566.85,74.32 L567.02,74.35 L567.19,74.33 L567.35,74.47 L567.52,74.41 L567.69,74.29 L567.86,74.30 L568.02,74.37 L568.19,74.41 L568.36,74.43 L568.53,74.30 L568.69,74.32 L568.86,74.45 L569.03,74.38 L569.20,74.35 L569.36,74.35 L569.53,74.51 L569.70,74.35 L569.87,74.42 L570.03,74.36 L570.20,74.38 L570.37,74.49 L570.54,74.52 L570.70,74.37 L570.87,74.32 L571.04,74.46 L571.21,74.33 L571.37,74.28 L571.54,74.50 L571.71,74.35 L571.88,74.32 L572.04,73.85 L572.21,73.25 L572.38,72.29 L572.55,71.82 L572.71,72.18 L572.88,73.16 L573.05,73.91 L573.22,74.35 L573.38,74.26 L573.55,74.43 L573.72,74.37 L573.89,74.40 L574.05,74.31 L574.22,74.35 L574.39,74.41 L574.56,74.51 L574.72,74.30 L574.89,74.40 L575.06,74.48 L575.23,74.52 L575.39,74.32 L575.56,74.31 L575.73,74.51 L575.90,74.52 L576.06,74.40 L576.23,74.29 L576.40,74.51 L576.57,74.37 L576.73,74.50 L576.90,74.43 L577.07,74.48 L577.24,74.32 L577.40,74.47 L577.57,74.33 L577.74,74.38 L577.91,74.49 L578.07,74.48 L578.24,74.32 L578.41,74.33 L578.58,74.37 L578.74,74.40 L578.91,74.37 L579.08,74.31 L579.25,74.34 L579.41,74.46 L579.58,74.50 L579.75,74.29 L579.92,74.42 L580.08,74.46 L580.25,74.28 L580.42,74.48 L580.59,74.30 L580.75,74.42 L580.92,74.41 L581.09,74.43 L581.26,74.35 L581.42,74.38 L581.59,74.42 L581.76,74.38 L581.93,74.44 L582.09,74.39 L582.26,74.38 L582.43,74.28 L582.60,74.43 L582.76,74.40 L582.93,74.33 L583.10,74.47 L583.27,74.47 L583.43,74.39 L583.60,74.32 L583.77,74.39 L583.94,74.30 L584.10,74.31 L584.27,74.38 L584.44,74.30 L584.61,74.39 L584.77,74.40 L584.94,74.29 L585.11,74.43 L585.28,74.30 L585.44,74.46 L585.61,74.47 L585.78,74.40 L585.95,74.29 L586.11,74.40 L586.28,74.37 L586.45,74.51 L586.62,74.31 L586.78,74.49 L586.95,74.52 L587.12,74.46 L587.29,74.48 L587.45,74.32 L587.62,74.52 L587.79,74.40 L587.96,74.51 L588.12,74.50 L588.29,74.32 L588.46,74.47 L588.63,74.51 L588.79,74.29 L588.96,74.36 L589.13,74.46 L589.30,74.31 L589.46,74.50 L589.63,74.34 L589.80,74.46 L589.97,74.20 L590.13,73.87 L590.30,72.70 L590.47,70.03 L590.64,67.11 L590.80,65.80 L590.97,67.13 L591.14,69.99 L591.31,72.52 L591.47,73.78 L591.64,74.40 L591.81,74.43 L591.98,74.50 L592.14,74.32 L592.31,74.47 L592.48,74.30 L592.65,74.41 L592.81,74.43 L592.98,74.36 L593.15,74.49 L593.32,74.41 L593.48,74.42 L593.65,74.50 L593.82,74.30 L593.99,74.52 L594.15,74.43 L594.32,74.37 L594.49,74.47 L594.66,74.34 L594.82,74.52 L594.99,74.42 L595.16,74.37 L595.33,74.47 L595.49,74.39 L595.66,74.32 L595.83,74.46 L596.00,74.29 L596.16,74.48 L596.33,74.34 L596.50,74.43 L596.67,74.52 L596.83,74.42 L597.00,74.44 L597.17,74.35 L597.34,74.28 L597.50,74.28 L597.67,74.31 L597.84,74.43 L598.01,74.38 L598.17,74.40 L598.34,74.50 L598.51,74.31 L598.68,74.33 L598.84,74.44 L599.01,74.28 L599.18,74.28 L599.35,74.36 L599.51,74.30 L599.68,74.36 L599.85,74.33 L600.02,74.42 L600.18,74.42 L600.35,74.33 L600.52,74.43 L600.69,74.39 L600.85,74.31 L601.02,74.51 L601.19,74.34 L601.36,74.31 L601.52,74.30 L601.69,74.43 L601.86,74.49 L602.03,74.47 L602.19,74.38 L602.36,74.34 L602.53,74.28 L602.70,74.44 L602.86,74.42 L603.03,74.36 L603.20,74.44 L603.37,74.39 L603.53,74.51 L603.70,74.46 L603.87,74.34 L604.04,74.50 L604.20,74.29 L604.37,74.41 L604.54,74.38 L604.71,74.33 L604.87,74.29 L605.04,74.47 L605.21,74.28 L605.38,74.41 L605.54,74.51 L605.71,74.31 L605.88,74.32 L606.05,74.43 L606.21,74.40 L606.38,74.44 L606.55,74.48 L606.72,74.32 L606.88,74.35 L607.05,74.35 L607.22,74.29 L607.39,74.50 L607.55,74.47 L607.72,74.45 L607.89,74.28 L608.06,74.49 L608.22,74.46 L608.39,74.39 L608.56,74.46 L608.73,74.39 L608.89,74.33 L609.06,74.30 L609.23,74.33 L609.40,74.28 L609.56,74.36 L609.73,74.46 L609.90,74.45 L610.07,74.49 L610.23,74.45 L610.40,74.34 L610.57,74.41 L610.74,74.38 L610.90,74.47 L611.07,74.41 L611.24,74.34 L611.41,74.44 L611.57,74.52 L611.74,74.33 L611.91,74.50 L612.08,74.28 L612.24,74.34 L612.41,74.33 L612.58,74.46 L612.75,74.51 L612.91,74.46 L613.08,74.36 L613.25,74.50 L613.42,74.36 L613.58,74.33 L613.75,74.50 L613.92,74.43 L614.09,74.45 L614.25,74.44 L614.42,74.52 L614.59,74.39 L614.76,74.48 L614.92,74.45 L615.09,74.49 L615.26,74.38 L615.43,74.46 L615.59,74.42 L615.76,74.35 L615.93,74.33 L616.10,74.43 L616.26,74.29 L616.43,74.50 L616.60,74.31 L616.77,74.28 L616.93,74.30 L617.10,74.51 L617.27,74.36 L617.44,74.31 L617.60,74.28 L617.77,74.29 L617.94,74.45 L618.11,74.43 L618.27,74.45 L618.44,74.46 L618.61,74.29 L618.78,74.42 L618.94,74.37 L619.11,74.48 L619.28,74.48 L619.45,74.50 L619.61,74.29 L619.78,74.49 L619.95,74.50 L620.12,74.51 L620.28,74.30 L620.45,74.33 L620.62,74.30 L620.79,74.28 L620.95,74.49 L621.12,74.48 L621.29,74.43 L621.46,74.48 L621.62,74.43 L621.79,74.35 L621.96,74.30 L622.13,74.30 L622.29,74.46 L622.46,74.33 L622.63,74.35 L622.80,74.38 L622.96,74.28 L623.13,74.34 L623.30,74.35 L623.47,74.45 L623.63,74.37 L623.80,74.35 L623.97,74.49 L624.14,74.31 L624.30,74.23 L624.47,73.88 L624.64,73.32 L624.81,73.04 L624.97,72.88 L625.14,73.13 L625.31,73.40 L625.48,73.90 L625.64,74.16 L625.81,74.24 L625.98,74.46 L626.15,74.29 L626.31,74.48 L626.48,74.32 L626.65,74.28 L626.82,74.33 L626.98,74.47 L627.15,74.52 L627.32,74.28 L627.49,74.40 L627.65,74.40 L627.82,74.47 L627.99,74.32 L628.16,74.40 L628.32,74.36 L628.49,74.48 L628.66,74.34 L628.83,74.51 L628.99,74.35 L629.16,74.33 L629.33,74.45 L629.50,74.40 L629.66,74.30 L629.83,74.43 L630.00,74.30" fill="none" stroke="#f08c8c" stroke-width="0.8"/>
<path d="M462.50,108.47 L462.67,108.45 L462.83,108.47 L463.00,108.43 L463.17,108.36 L463.34,108.38 L463.50,108.37 L463.67,108.50 L463.84,108.30 L464.01,108.50 L464.18,108.28 L464.34,108.33 L464.51,108.34 L464.68,108.50 L464.85,108.40 L465.01,108.37 L465.18,108.50 L465.35,108.33 L465.52,108.39 L465.68,108.41 L465.85,108.46 L466.02,108.46 L466.19,108.44 L466.35,108.36 L466.52,108.36 L466.69,108.31 L466.86,108.49 L467.02,108.44 L467.19,108.46 L467.36,108.32 L467.53,108.38 L467.69,108.47 L467.86,108.42 L468.03,108.31 L468.20,108.39 L468.36,108.50 L468.53,108.33 L468.70,108.32 L468.87,108.35 L469.03,108.45 L469.20,108.49 L469.37,108.32 L469.54,108.32 L469.70,108.35 L469.87,108.37 L470.04,108.43 L470.21,108.34 L470.37,108.39 L470.54,108.36 L470.71,108.56 L470.88,108.50 L471.04,108.35 L471.21,108.56 L471.38,108.34 L471.55,108.35 L471.71,108.22 L471.88,107.32 L472.05,105.63 L472.22,103.58 L472.38,102.60 L472.55,103.64 L472.72,105.49 L472.89,107.20 L473.05,108.11 L473.22,108.31 L473.39,108.47 L473.56,108.58 L473.72,108.56 L473.89,108.52 L474.06,108.55 L474.23,108.52 L474.39,108.44 L474.56,108.56 L474.73,108.51 L474.90,108.60 L475.06,108.65 L475.23,108.53 L475.40,108.57 L475.57,108.62 L475.73,108.54 L475.90,108.50 L476.07,108.63 L476.24,108.67 L476.40,108.65 L476.57,108.63 L476.74,108.68 L476.91,108.64 L477.07,108.63 L477.24,108.59 L477.41,108.56 L477.58,108.64 L477.74,108.51 L477.91,108.60 L478.08,108.69 L478.25,108.68 L478.41,108.66 L478.58,108.57 L478.75,108.62 L478.92,108.63 L479.08,108.68 L479.25,108.63 L479.42,108.70 L479.59,108.77 L479.75,108.58 L479.92,108.71 L480.09,108.74 L480.26,108.65 L480.42,108.68 L480.59,108.80 L480.76,108.57 L480.93,108.70 L481.09,108.61 L481.26,108.77 L481.43,108.81 L481.60,108.71 L481.76,108.61 L481.93,108.74 L482.10,108.73 L482.27,108.78 L482.43,108.73 L482.60,108.77 L482.77,108.82 L482.94,108.75 L483.10,108.72 L483.27,108.86 L483.44,108.68 L483.61,108.80 L483.77,108.74 L483.94,108.83 L484.11,108.68 L484.28,108.90 L484.44,108.74 L484.61,108.67 L484.78,108.73 L484.95,108.77 L485.11,108.67 L485.28,108.78 L485.45,108.78 L485.62,108.86 L485.78,108.78 L485.95,108.76 L486.12,108.75 L486.29,108.89 L486.45,108.94 L486.62,108.84 L486.79,108.77 L486.96,108.92 L487.12,108.82 L487.29,108.78 L487.46,108.76 L487.63,108.93 L487.79,108.94 L487.96,108.90 L488.13,108.86 L488.30,108.89 L488.46,108.81 L488.63,109.00 L488.80,108.85 L488.97,108.93 L489.13,108.98 L489.30,108.98 L489.47,108.90 L489.64,108.86 L489.80,108.92 L489.97,108.82 L490.14,109.00 L490.31,108.89 L490.47,109.02 L490.64,108.88 L490.81,108.91 L490.98,108.88 L491.14,108.93 L491.31,108.87 L491.48,108.83 L491.65,109.01 L491.81,108.91 L491.98,108.90 L492.15,108.92 L492.32,108.97 L492.48,108.96 L492.65,109.02 L492.82,109.03 L492.99,108.96 L493.15,109.10 L493.32,109.09 L493.49,108.89 L493.66,109.09 L493.82,109.11 L493.99,109.09 L494.16,108.93 L494.33,109.11 L494.49,109.06 L494.66,108.91 L494.83,108.92 L495.00,109.15 L495.16,109.08 L495.33,108.99 L495.50,108.95 L495.67,108.97 L495.83,109.00 L496.00,109.14 L496.17,109.03 L496.34,108.99 L496.50,109.18 L496.67,109.16 L496.84,109.00 L497.01,109.19 L497.17,109.12 L497.34,109.17 L497.51,109.15 L497.68,109.21 L497.84,109.18 L498.01,109.20 L498.18,109.05 L498.35,109.17 L498.51,109.14 L498.68,109.19 L498.85,109.12 L499.02,109.24 L499.18,109.16 L499.35,109.09 L499.52,109.09 L499.69,109.07 L499.85,109.16 L500.02,109.06 L500.19,109.16 L500.36,109.09 L500.52,109.18 L500.69,109.18 L500.86,109.20 L501.03,109.28 L501.19,109.07 L501.36,109.29 L501.53,109.20 L501.70,109.22 L501.86,109.25 L502.03,109.30 L502.20,109.19 L502.37,109.20 L502.53,109.34 L502.70,109.13 L502.87,109.27 L503.04,109.28 L503.20,109.13 L503.37,109.28 L503.54,109.30 L503.71,109.37 L503.87,109.22 L504.04,109.39 L504.21,109.27 L504.38,109.24 L504.54,109.05 L504.71,107.29 L504.88,102.79 L505.05,95.46 L505.21,91.46 L505.38,95.53 L505.55,102.72 L505.72,107.43 L505.88,108.99 L506.05,109.35 L506.22,109.25 L506.39,109.31 L506.55,109.31 L506.72,109.35 L506.89,109.42 L507.06,109.29 L507.22,109.43 L507.39,109.33 L507.56,109.36 L507.73,109.30 L507.89,109.36 L508.06,109.49 L508.23,109.41 L508.40,109.45 L508.56,109.34 L508.73,109.34 L508.90,109.34 L509.07,109.41 L509.23,109.43 L509.40,109.47 L509.57,109.29 L509.74,109.46 L509.90,109.50 L510.07,109.41 L510.24,109.29 L510.41,109.35 L510.57,109.28 L510.74,109.32 L510.91,109.51 L511.08,109.43 L511.24,109.44 L511.41,109.47 L511.58,109.50 L511.75,109.43 L511.91,109.43 L512.08,109.43 L512.25,109.45 L512.41,109.42 L512.58,109.45 L512.75,109.33 L512.92,109.44 L513.09,109.39 L513.25,109.47 L513.42,109.30 L513.59,109.32 L513.75,109.28 L513.92,109.47 L514.09,109.50 L514.26,109.44 L514.42,109.37 L514.59,109.48 L514.76,109.47 L514.93,109.42 L515.09,109.34 L515.26,109.35 L515.43,109.38 L515.60,109.35 L515.76,109.38 L515.93,109.44 L516.10,109.51 L516.27,109.29 L516.43,109.42 L516.60,109.28 L516.77,109.30 L516.94,109.48 L517.10,109.42 L517.27,109.50 L517.44,109.39 L517.61,109.28 L517.77,109.37 L517.94,109.42 L518.11,109.51 L518.28,109.52 L518.44,109.39 L518.61,109.38 L518.78,109.30 L518.95,109.44 L519.11,109.33 L519.28,109.31 L519.45,109.28 L519.62,109.28 L519.78,109.45 L519.95,109.31 L520.12,109.52 L520.29,109.30 L520.45,109.49 L520.62,109.31 L520.79,109.28 L520.96,109.45 L521.12,109.34 L521.29,109.46 L521.46,109.32 L521.63,109.29 L521.79,109.47 L521.96,109.45 L522.13,109.49 L522.30,109.46 L522.46,109.30 L522.63,109.43 L522.80,109.45 L522.97,109.39 L523.13,109.51 L523.30,109.34 L523.47,109.52 L523.64,109.45 L523.80,109.28 L523.97,109.28 L524.14,109.44 L524.31,109.48 L524.47,109.29 L524.64,109.35 L524.81,109.46 L524.98,109.32 L525.14,109.49 L525.31,109.40 L525.48,109.29 L525.65,109.37 L525.81,109.42 L525.98,109.38 L526.15,109.44 L526.32,109.31 L526.48,109.47 L526.65,109.37 L526.82,109.44 L526.99,109.43 L527.15,109.38 L527.32,109.37 L527.49,109.47 L527.66,109.51 L527.82,109.47 L527.99,109.42 L528.16,109.35 L528.33,109.29 L528.49,109.52 L528.66,109.45 L528.83,109.48 L529.00,109.36 L529.16,109.43 L529.33,109.52 L529.50,109.48 L529.67,109.42 L529.83,109.31 L530.00,109.18 L530.17,108.81 L530.34,107.72 L530.50,106.67 L530.67,106.13 L530.84,106.72 L531.01,107.83 L531.17,108.65 L531.34,109.07 L531.51,109.30 L531.68,109.37 L531.84,109.42 L532.01,109.48 L532.18,109.50 L532.35,109.29 L532.51,109.48 L532.68,109.48 L532.85,109.49 L533.02,109.42 L533.18,109.34 L533.35,109.49 L533.52,109.48 L533.69,109.45 L533.85,109.50 L534.02,109.36 L534.19,109.30 L534.36,109.41 L534.52,109.47 L534.69,109.33 L534.86,109.46 L535.03,109.51 L535.19,109.33 L535.36,109.43 L535.53,109.44 L535.70,109.39 L535.86,109.33 L536.03,109.34 L536.20,109.46 L536.37,109.47 L536.53,109.39 L536.70,109.30 L536.87,109.48 L537.04,109.47 L537.20,109.33 L537.37,109.42 L537.54,109.50 L537.71,109.50 L537.87,109.41 L538.04,109.39 L538.21,109.42 L538.38,109.32 L538.54,109.32 L538.71,109.32 L538.88,109.45 L539.05,109.37 L539.21,109.42 L539.38,109.38 L539.55,109.40 L539.72,109.31 L539.88,109.29 L540.05,109.52 L540.22,109.37 L540.39,109.30 L540.55,109.43 L540.72,109.47 L540.89,109.31 L541.06,109.42 L541.22,109.36 L541.39,109.40 L541.56,109.28 L541.73,109.28 L541.89,109.52 L542.06,109.49 L542.23,109.40 L542.40,109.42 L542.56,109.34 L542.73,109.47 L542.90,109.38 L543.07,109.51 L543.23,109.47 L543.40,109.48 L543.57,109.52 L543.74,109.34 L543.90,109.28 L544.07,109.33 L544.24,109.32 L544.41,109.30 L544.57,109.29 L544.74,109.41 L544.91,109.49 L545.08,109.39 L545.24,109.51 L545.41,109.50 L545.58,109.29 L545.75,109.42 L545.91,109.37 L546.08,109.30 L546.25,109.51 L546.42,109.34 L546.58,109.42 L546.75,109.44 L546.92,109.51 L547.09,109.44 L547.25,109.37 L547.42,109.39 L547.59,109.31 L547.76,109.52 L547.92,109.52 L548.09,109.33 L548.26,109.28 L548.43,109.34 L548.59,109.36 L548.76,109.50 L548.93,109.50 L549.10,109.48 L549.26,109.29 L549.43,109.47 L549.60,109.45 L549.77,109.44 L549.93,109.52 L550.10,109.29 L550.27,109.31 L550.44,109.46 L550.60,109.51 L550.77,109.44 L550.94,109.35 L551.11,109.42 L551.27,109.46 L551.44,109.30 L551.61,109.36 L551.78,109.34 L551.94,109.28 L552.11,109.27 L552.28,108.90 L552.45,108.34 L552.61,107.63 L552.78,107.44 L552.95,107.60 L553.12,108.46 L553.28,108.90 L553.45,109.16 L553.62,109.48 L553.79,109.33 L553.95,109.51 L554.12,109.49 L554.29,109.50 L554.46,109.31 L554.62,109.39 L554.79,109.30 L554.96,109.51 L555.13,109.49 L555.29,109.43 L555.46,109.39 L555.63,109.36 L555.80,109.48 L555.96,109.39 L556.13,109.43 L556.30,109.31 L556.47,109.33 L556.63,109.29 L556.80,109.45 L556.97,109.41 L557.14,109.31 L557.30,109.49 L557.47,109.34 L557.64,109.38 L557.81,109.31 L557.97,109.34 L558.14,109.48 L558.31,109.36 L558.48,109.32 L558.64,109.40 L558.81,109.35 L558.98,109.50 L559.15,109.30 L559.31,109.52 L559.48,109.29 L559.65,109.50 L559.82,109.44 L559.98,109.33 L560.15,109.39 L560.32,109.35 L560.49,109.34 L560.65,109.33 L560.82,109.37 L560.99,109.52 L561.16,109.52 L561.32,109.51 L561.49,109.30 L561.66,109.35 L561.83,109.50 L561.99,109.29 L562.16,109.46 L562.33,109.35 L562.50,109.52 L562.66,109.28 L562.83,109.48 L563.00,109.36 L563.17,109.31 L563.33,109.28 L563.50,109.48 L563.67,109.41 L563.84,109.32 L564.00,109.38 L564.17,109.50 L564.34,109.33 L564.51,109.42 L564.67,109.31 L564.84,109.32 L565.01,109.47 L565.18,109.45 L565.34,109.32 L565.51,109.29 L565.68,109.30 L565.85,109.43 L566.01,109.40 L566.18,109.34 L566.35,109.33 L566.52,109.43 L566.68,109.45 L566.85,109.48 L567.02,109.42 L567.19,109.33 L567.35,109.29 L567.52,109.46 L567.69,109.38 L567.86,109.46 L568.02,109.29 L568.19,109.48 L568.36,109.36 L568.53,109.49 L568.69,109.49 L568.86,109.40 L569.03,109.28 L569.20,109.50 L569.36,109.39 L569.53,109.49 L569.70,109.34 L569.87,109.32 L570.03,109.48 L570.20,109.37 L570.37,109.32 L570.54,109.37 L570.70,109.42 L570.87,109.28 L571.04,109.40 L571.21,109.39 L571.37,109.40 L571.54,109.31 L571.71,109.45 L571.88,109.48 L572.04,109.47 L572.21,109.26 L572.38,109.14 L572.55,108.62 L572.71,108.20 L572.88,107.79 L573.05,108.23 L573.22,108.76 L573.38,109.08 L573.55,109.31 L573.72,109.39 L573.89,109.41 L574.05,109.28 L574.22,109.52 L574.39,109.33 L574.56,109.32 L574.72,109.30 L574.89,109.34 L575.06,109.48 L575.23,109.28 L575.39,109.30 L575.56,109.45 L575.73,109.32 L575.90,109.28 L576.06,109.42 L576.23,109.42 L576.40,109.41 L576.57,109.45 L576.73,109.30 L576.90,109.49 L577.07,109.45 L577.24,109.29 L577.40,109.31 L577.57,109.40 L577.74,109.40 L577.91,109.34 L578.07,109.31 L578.24,109.38 L578.41,109.31 L578.58,109.42 L578.74,109.49 L578.91,109.31 L579.08,109.42 L579.25,109.46 L579.41,109.32 L579.58,109.48 L579.75,109.51 L579.92,109.37 L580.08,109.38 L580.25,109.48 L580.42,109.41 L580.59,109.37 L580.75,109.51 L580.92,109.47 L581.09,109.36 L581.26,109.34 L581.42,109.36 L581.59,109.38 L581.76,109.52 L581.93,109.48 L582.09,109.50 L582.26,109.48 L582.43,109.49 L582.60,109.29 L582.76,109.40 L582.93,109.51 L583.10,109.51 L583.27,109.34 L583.43,109.38 L583.60,109.43 L583.77,109.37 L583.94,109.41 L584.10,109.29 L584.27,109.38 L584.44,109.40 L584.61,109.28 L584.77,109.31 L584.94,109.52 L585.11,109.47 L585.28,109.51 L585.44,109.43 L585.61,109.48 L585.78,109.50 L585.95,109.50 L586.11,109.28 L586.28,109.44 L586.45,109.34 L586.62,109.44 L586.78,109.34 L586.95,109.41 L587.12,109.51 L587.29,109.43 L587.45,109.34 L587.62,109.41 L587.79,109.38 L587.96,109.51 L588.12,109.35 L588.29,109.35 L588.46,109.44 L588.63,109.31 L588.79,109.42 L588.96,109.51 L589.13,109.40 L589.30,109.34 L589.46,109.39 L589.63,109.41 L589.80,109.31 L589.97,109.31 L590.13,109.31 L590.30,109.33 L590.47,109.16 L590.64,108.11 L590.80,105.03 L590.97,100.18 L591.14,97.71 L591.31,100.37 L591.47,105.12 L591.64,108.18 L591.81,109.22 L591.98,109.30 L592.14,109.45 L592.31,109.39 L592.48,109.41 L592.65,109.43 L592.81,109.39 L592.98,109.35 L593.15,109.34 L593.32,109.33 L593.48,109.40 L593.65,109.37 L593.82,109.42 L593.99,109.28 L594.15,109.36 L594.32,109.49 L594.49,109.33 L594.66,109.41 L594.82,109.40 L594.99,109.35 L595.16,109.52 L595.33,109.35 L595.49,109.47 L595.66,109.31 L595.83,109.29 L596.00,109.49 L596.16,109.38 L596.33,109.29 L596.50,109.37 L596.67,109.38 L596.83,109.46 L597.00,109.30 L597.17,109.33 L597.34,109.51 L597.50,109.46 L597.67,109.31 L597.84,109.36 L598.01,109.36 L598.17,109.44 L598.34,109.43 L598.51,109.49 L598.68,109.48 L598.84,109.40 L599.01,109.46 L599.18,109.46 L599.35,109.46 L599.51,109.39 L599.68,109.47 L599.85,109.45 L600.02,109.50 L600.18,109.31 L600.35,109.49 L600.52,109.28 L600.69,109.47 L600.85,109.42 L601.02,109.40 L601.19,109.52 L601.36,109.42 L601.52,109.38 L601.69,109.47 L601.86,109.49 L602.03,109.43 L602.19,109.37 L602.36,109.39 L602.53,109.39 L602.70,109.46 L602.86,109.35 L603.03,109.37 L603.20,109.41 L603.37,109.37 L603.53,109.36 L603.70,109.47 L603.87,109.49 L604.04,109.40 L604.20,109.39 L604.37,109.32 L604.54,109.35 L604.71,109.31 L604.87,109.42 L605.04,109.42 L605.21,109.30 L605.38,109.51 L605.54,109.36 L605.71,109.49 L605.88,109.48 L606.05,109.51 L606.21,109.33 L606.38,109.38 L606.55,109.50 L606.72,109.28 L606.88,109.29 L607.05,109.42 L607.22,109.40 L607.39,109.51 L607.55,109.47 L607.72,109.41 L607.89,109.52 L608.06,109.40 L608.22,109.40 L608.39,109.45 L608.56,109.37 L608.73,109.36 L608.89,109.42 L609.06,109.36 L609.23,109.51 L609.40,109.44 L609.56,109.41 L609.73,109.30 L609.90,109.37 L610.07,109.38 L610.23,109.42 L610.40,109.42 L610.57,109.49 L610.74,109.52 L610.90,109.40 L611.07,109.39 L611.24,109.43 L611.41,109.52 L611.57,109.36 L611.74,109.41 L611.91,109.48 L612.08,109.32 L612.24,109.35 L612.41,109.52 L612.58,109.48 L612.75,109.40 L612.91,109.30 L613.08,109.50 L613.25,109.45 L613.42,109.48 L613.58,109.52 L613.75,109.50 L613.92,109.38 L614.09,109.31 L614.25,109.35 L614.42,109.40 L614.59,109.40 L614.76,109.32 L614.92,109.32 L615.09,109.43 L615.26,109.43 L615.43,109.36 L615.59,109.52 L615.76,109.43 L615.93,109.29 L616.10,109.38 L616.26,109.47 L616.43,109.35 L616.60,109.45 L616.77,109.28 L616.93,109.35 L617.10,109.49 L617.27,109.42 L617.44,109.44 L617.60,109.32 L617.77,109.40 L617.94,109.41 L618.11,109.34 L618.27,109.44 L618.44,109.41 L618.61,109.52 L618.78,109.42 L618.94,109.38 L619.11,109.31 L619.28,109.31 L619.45,109.46 L619.61,109.30 L619.78,109.30 L619.95,109.32 L620.12,109.41 L620.28,109.48 L620.45,109.43 L620.62,109.48 L620.79,109.29 L620.95,109.28 L621.12,109.47 L621.29,109.36 L621.46,109.45 L621.62,109.36 L621.79,109.32 L621.96,109.34 L622.13,109.30 L622.29,109.50 L622.46,109.42 L622.63,109.36 L622.80,109.39 L622.96,109.37 L623.13,109.29 L623.30,109.50 L623.47,109.42 L623.63,109.51 L623.80,109.38 L623.97,109.43 L624.14,109.33 L624.30,109.27 L624.47,109.45 L624.64,109.32 L624.81,108.99 L624.97,108.86 L625.14,108.58 L625.31,108.35 L625.48,108.53 L625.64,108.87 L625.81,109.03 L625.98,109.34 L626.15,109.27 L626.31,109.35 L626.48,109.45 L626.65,109.33 L626.82,109.35 L626.98,109.49 L627.15,109.40 L627.32,109.47 L627.49,109.34 L627.65,109.32 L627.82,109.36 L627.99,109.32 L628.16,109.52 L628.32,109.35 L628.49,109.42 L628.66,109.30 L628.83,109.41 L628.99,109.37 L629.16,109.38 L629.33,109.29 L629.50,109.31 L629.66,109.48 L629.83,109.36 L630.00,109.34" fill="none" stroke="#7f8bd0" stroke-width="0.8"/>
<path d="M472.21,138.3 V134.50 M504.38,138.3 V127.30 M530.50,138.3 V137.30 M552.95,138.3 V137.30 M573.05,138.3 V137.50 M590.81,138.3 V135.60 M624.98,138.3 V137.50" stroke="#f0606a" stroke-width="0.9"/>
<defs><linearGradient id="pbu" x1="0" y1="0" x2="1" y2="0"><stop offset="0" stop-color="#b4b4b4"/><stop offset="0.3" stop-color="#cfcfcf"/><stop offset="0.75" stop-color="#e6e6e6"/><stop offset="1" stop-color="#d6d6d6"/></linearGradient><linearGradient id="pbl" x1="0" y1="0" x2="0" y2="1"><stop offset="0" stop-color="#555"/><stop offset="0.3" stop-color="#444"/><stop offset="1" stop-color="#3b3b3b"/></linearGradient><linearGradient id="vgl" x1="0" y1="0" x2="1" y2="0"><stop offset="0" stop-color="#a4a4a4"/><stop offset="0.1" stop-color="#686868"/><stop offset="0.5" stop-color="#7a7a7a"/><stop offset="0.9" stop-color="#666"/><stop offset="1" stop-color="#a0a0a0"/></linearGradient><linearGradient id="vcap" x1="0" y1="0" x2="1" y2="0"><stop offset="0" stop-color="#a8a8a8"/><stop offset="0.3" stop-color="#e8e8e8"/><stop offset="1" stop-color="#f4f4f4"/></linearGradient></defs>
<rect x="516" y="12" width="39.4" height="19.5" fill="url(#pbu)"/>
<rect x="516" y="31.4" width="39.4" height="32.8" fill="url(#pbl)"/>
<rect x="550.3" y="12" width="5.1" height="4.3" fill="#3f5656"/><rect x="550.3" y="16.2" width="5.1" height="4.8" fill="#63a9c6"/><rect x="550.3" y="21" width="5.1" height="3.8" fill="#c8d0d4"/><rect x="550.3" y="24.8" width="5.1" height="7.1" fill="#1f262c"/>
<rect x="526.9" y="26.5" width="14.6" height="34" rx="1" fill="url(#vgl)"/>
<rect x="526.9" y="26.5" width="14.6" height="5.4" fill="#dcdcdc"/>
<path d="M527.4,59.4 C527.2,53 530,50.8 534.5,50.7 C539.5,50.8 541.9,53 541.8,59.4 C538,60.6 531,60.6 527.4,59.4 Z" fill="#e5e3cf"/>
<rect x="525.7" y="17.4" width="18" height="9.4" rx="1.2" fill="url(#vcap)"/>
<rect x="462.5" y="3.4" width="167.5" height="134.9" fill="none" stroke="#6a6a6a" stroke-width="1"/>
<path d="M462.50,138.3 v2.2 M479.25,138.3 v1.2 M496.00,138.3 v2.2 M512.75,138.3 v1.2 M529.50,138.3 v2.2 M546.25,138.3 v1.2 M563.00,138.3 v2.2 M579.75,138.3 v1.2 M596.50,138.3 v2.2 M613.25,138.3 v1.2 M630.00,138.3 v2.2" stroke="#555" stroke-width="0.9"/>
<text x="462.50" y="149.2" font-size="8.6" text-anchor="middle" font-family="Liberation Serif" font-weight="bold">20</text>
<text x="496.00" y="149.2" font-size="8.6" text-anchor="middle" font-family="Liberation Serif" font-weight="bold">30</text>
<text x="529.50" y="149.2" font-size="8.6" text-anchor="middle" font-family="Liberation Serif" font-weight="bold">40</text>
<text x="563.00" y="149.2" font-size="8.6" text-anchor="middle" font-family="Liberation Serif" font-weight="bold">50</text>
<text x="596.50" y="149.2" font-size="8.6" text-anchor="middle" font-family="Liberation Serif" font-weight="bold">60</text>
<text x="630.00" y="149.2" font-size="8.6" text-anchor="middle" font-family="Liberation Serif" font-weight="bold">70</text>
<text x="548.7" y="163.5" font-size="11.7" text-anchor="middle" font-family="Liberation Serif" font-weight="bold">2θ (degree)</text>
<text transform="translate(453.4,76.6) rotate(-90)" font-size="12.1" text-anchor="middle" font-family="Liberation Serif" font-weight="bold">Intensity (a.u.)</text>
<path d="M568,9.9 H580" stroke="#f08c8c" stroke-width="0.8"/><path d="M568,18.4 H580" stroke="#7f8bd0" stroke-width="0.8"/>
<text x="582.7" y="12.2" font-size="5.75" font-family="Liberation Serif">NH<tspan font-size="3.6" dy="1">4</tspan><tspan dy="-1">Cl(s) product</tspan></text>
<text x="582.7" y="20.7" font-size="5.75" font-family="Liberation Serif">Commercial NH<tspan font-size="3.6" dy="1">4</tspan><tspan dy="-1">Cl</tspan></text>
</g>
<g id="pd">
<text x="28.8" y="162.1" font-size="17.6" font-family="Liberation Serif" font-weight="bold">d</text>
<defs><clipPath id="pclip"><rect x="47.1" y="174" width="583" height="158"/></clipPath></defs><g clip-path="url(#pclip)">
<path d="M49.20,269.65 L50.56,269.48 L51.91,269.30 L53.26,269.12 L54.61,268.95 L55.96,268.78 L57.32,268.60 L58.67,268.48 L60.02,268.37 L61.37,268.25 L62.72,268.13 L64.08,268.02 L65.43,267.90 L66.78,267.78 L68.13,267.67 L69.48,267.55 L70.84,267.43 L72.19,267.32 L73.54,267.20 L74.89,267.21 L76.24,267.22 L77.60,267.23 L78.95,267.23 L80.30,267.24 L81.65,267.25 L83.00,267.26 L84.36,267.27 L85.71,267.27 L87.06,267.28 L88.41,267.29 L89.76,267.30 L91.12,267.31 L92.47,267.32 L93.82,267.34 L95.17,267.35 L96.52,267.36 L97.88,267.38 L99.23,267.39 L100.58,267.40 L101.93,267.41 L103.28,267.43 L104.64,267.44 L105.99,267.45 L107.34,267.46 L108.69,267.48 L110.04,267.49 L111.40,267.50 L112.75,267.50 L114.10,267.50 L115.45,267.50 L116.80,267.50 L118.16,267.50 L119.51,267.50 L120.86,267.50 L122.21,267.50 L123.56,267.50 L124.92,267.50 L126.27,267.50 L127.62,267.50 L128.97,267.50 L130.32,267.50 L131.68,267.50 L133.03,267.50 L134.38,267.40 L135.73,267.30 L137.08,267.35 L138.44,267.39 L139.79,267.44 L141.14,267.48 L142.49,267.53 L143.84,267.57 L145.20,267.62 L146.55,267.66 L147.90,267.71 L149.25,267.75 L150.60,267.80 L151.96,267.85 L153.31,267.89 L154.66,267.94 L156.01,267.98 L157.36,268.03 L158.72,268.07 L160.07,268.12 L161.42,268.16 L162.77,268.21 L164.12,268.25 L165.48,268.30 L166.83,268.34 L168.18,268.38 L169.53,268.42 L170.88,268.45 L172.24,268.49 L173.59,268.53 L174.94,268.57 L176.29,268.61 L177.64,268.65 L179.00,268.68 L180.35,268.72 L181.70,268.76 L183.05,268.80 L184.40,268.84 L185.76,268.88 L187.11,268.92 L188.46,268.95 L189.81,268.99 L191.16,269.03 L192.52,269.07 L193.87,269.11 L195.22,269.15 L196.57,269.18 L197.92,269.22 L199.28,269.26 L200.63,269.30 L201.98,268.98 L203.33,268.66 L204.68,268.40 L206.04,268.42 L207.39,268.43 L208.74,268.44 L210.09,268.46 L211.44,268.47 L212.80,268.49 L214.15,268.50 L215.50,268.51 L216.85,268.52 L218.20,268.52 L219.56,268.53 L220.91,268.54 L222.26,268.55 L223.61,268.56 L224.96,268.57 L226.32,268.57 L227.67,268.58 L229.02,268.59 L230.37,268.60 L231.72,268.61 L233.08,268.62 L234.43,268.62 L235.78,268.63 L237.13,268.64 L238.48,268.65 L239.84,268.66 L241.19,268.67 L242.54,268.68 L243.89,268.68 L245.24,268.69 L246.60,268.70 L247.95,268.74 L249.30,268.78 L250.65,268.82 L252.00,268.87 L253.36,268.91 L254.71,268.95 L256.06,268.99 L257.41,269.03 L258.76,269.07 L260.12,269.12 L261.47,269.16 L262.82,269.20 L264.17,269.24 L265.52,269.28 L266.88,269.32 L268.23,269.37 L269.58,269.41 L270.93,269.45 L272.28,269.49 L273.64,269.53 L274.99,269.57 L276.34,269.62 L277.69,269.66 L279.04,269.70 L280.40,269.66 L281.75,269.62 L283.10,269.58 L284.45,269.54 L285.80,269.50 L287.16,269.45 L288.51,269.41 L289.86,269.37 L291.21,269.33 L292.56,269.29 L293.92,269.25 L295.27,269.21 L296.62,269.17 L297.97,269.13 L299.32,269.09 L300.68,269.05 L302.03,269.00 L303.38,268.96 L304.73,268.92 L306.08,268.88 L307.44,268.84 L308.79,268.80 L310.14,268.60 L311.49,268.40 L312.84,268.20 L314.20,268.00 L315.55,268.01 L316.90,268.02 L318.25,268.03 L319.60,268.04 L320.96,268.05 L322.31,268.06 L323.66,268.07 L325.01,268.08 L326.36,268.09 L327.72,268.10 L329.07,268.11 L330.42,268.11 L331.77,268.12 L333.12,268.12 L334.48,268.13 L335.83,268.13 L337.18,268.14 L338.53,268.14 L339.88,268.15 L341.24,268.16 L342.59,268.16 L343.94,268.17 L345.29,268.17 L346.64,268.18 L348.00,268.18 L349.35,268.19 L350.70,268.19 L352.05,268.20 L353.40,268.21 L354.76,268.21 L356.11,268.22 L357.46,268.22 L358.81,268.23 L360.16,268.23 L361.52,268.24 L362.87,268.24 L364.22,268.25 L365.57,268.26 L366.92,268.26 L368.28,268.27 L369.63,268.27 L370.98,268.28 L372.33,268.28 L373.68,268.29 L375.04,268.29 L376.39,268.30 L377.74,268.32 L379.09,268.35 L380.44,268.38 L381.80,268.40 L383.15,268.43 L384.50,268.45 L385.85,268.48 L387.20,268.50 L388.56,268.52 L389.91,268.55 L391.26,268.57 L392.61,268.60 L393.96,268.62 L395.32,268.65 L396.67,268.68 L398.02,268.70 L399.37,268.72 L400.72,268.75 L402.08,268.77 L403.43,268.80 L404.78,268.82 L406.13,268.85 L407.48,268.88 L408.84,268.90 L410.19,268.95 L411.54,269.00 L412.89,269.06 L414.24,269.11 L415.60,269.16 L416.95,269.21 L418.30,269.26 L419.65,269.31 L421.00,269.37 L422.36,269.42 L423.71,269.47 L425.06,269.52 L426.41,269.57 L427.76,269.62 L429.12,269.68 L430.47,269.73 L431.82,269.78 L433.17,269.83 L434.52,269.88 L435.88,269.93 L437.23,269.99 L438.58,270.04 L439.93,270.09 L441.28,269.57 L442.64,268.92 L443.99,268.26 L445.34,268.00 L446.69,268.00 L448.04,268.01 L449.40,268.01 L450.75,268.01 L452.10,268.01 L453.45,268.02 L454.80,268.02 L456.16,268.02 L457.51,268.02 L458.86,268.03 L460.21,268.03 L461.56,268.03 L462.92,268.03 L464.27,268.04 L465.62,268.04 L466.97,268.04 L468.32,268.04 L469.68,268.04 L471.03,268.05 L472.38,268.05 L473.73,268.05 L475.08,268.05 L476.44,268.06 L477.79,268.06 L479.14,268.06 L480.49,268.06 L481.84,268.07 L483.20,268.07 L484.55,268.07 L485.90,268.07 L487.25,268.08 L488.60,268.08 L489.96,268.08 L491.31,268.08 L492.66,268.09 L494.01,268.09 L495.36,268.09 L496.72,268.09 L498.07,268.10 L499.42,268.10 L500.77,268.10 L502.12,268.15 L503.48,268.20 L504.83,268.25 L506.18,268.30 L507.53,268.35 L508.88,268.40 L510.24,268.45 L511.59,268.50 L512.94,268.55 L514.29,268.60 L515.64,268.65 L517.00,268.70 L518.35,268.75 L519.70,268.80 L521.05,268.85 L522.40,268.90 L523.76,268.95 L525.11,269.00 L526.46,269.05 L527.81,269.10 L529.16,269.15 L530.52,269.20 L531.87,269.25 L533.22,269.30 L534.57,269.34 L535.92,269.38 L537.28,269.42 L538.63,269.46 L539.98,269.50 L541.33,269.55 L542.68,269.59 L544.04,269.63 L545.39,269.67 L546.74,269.71 L548.09,269.75 L549.44,269.79 L550.80,269.83 L552.15,269.87 L553.50,269.91 L554.85,269.95 L556.20,270.00 L557.56,270.04 L558.91,270.08 L560.26,270.12 L561.61,270.16 L562.96,270.20 L564.32,269.65 L565.67,269.10 L567.02,268.55 L568.37,268.00 L569.72,268.00 L571.08,268.01 L572.43,268.01 L573.78,268.02 L575.13,268.02 L576.48,268.03 L577.84,268.03 L579.19,268.04 L580.54,268.04 L581.89,268.05 L583.24,268.05 L584.60,268.05 L585.95,268.06 L587.30,268.06 L588.65,268.07 L590.00,268.07 L591.36,268.08 L592.71,268.08 L594.06,268.09 L595.41,268.09 L596.76,268.09 L598.12,268.10 L599.47,268.10 L600.82,268.11 L602.17,268.11 L603.52,268.12 L604.88,268.12 L606.23,268.13 L607.58,268.13 L608.93,268.14 L610.28,268.14 L611.64,268.14 L612.99,268.15 L614.34,268.15 L615.69,268.16 L617.04,268.16 L618.40,268.17 L619.75,268.17 L621.10,268.18 L622.45,268.18 L623.80,268.18 L625.16,268.19" fill="none" stroke="#f0a2a2" stroke-width="10.4" stroke-linecap="round" stroke-linejoin="round"/>
<circle cx="46.50" cy="269.57" r="5.2" fill="#f0a2a2"/><circle cx="48.12" cy="269.23" r="5.2" fill="#f0a2a2"/><circle cx="49.74" cy="268.87" r="5.2" fill="#f0a2a2"/><circle cx="51.37" cy="268.30" r="5.2" fill="#f0a2a2"/><circle cx="52.99" cy="268.75" r="5.2" fill="#f0a2a2"/><circle cx="54.61" cy="268.48" r="5.2" fill="#f0a2a2"/><circle cx="56.23" cy="267.98" r="5.2" fill="#f0a2a2"/><circle cx="57.86" cy="268.38" r="5.2" fill="#f0a2a2"/><circle cx="59.48" cy="267.74" r="5.2" fill="#f0a2a2"/><circle cx="61.10" cy="267.55" r="5.2" fill="#f0a2a2"/><circle cx="62.72" cy="268.17" r="5.2" fill="#f0a2a2"/><circle cx="64.35" cy="267.49" r="5.2" fill="#f0a2a2"/><circle cx="65.97" cy="267.47" r="5.2" fill="#f0a2a2"/><circle cx="67.59" cy="267.96" r="5.2" fill="#f0a2a2"/><circle cx="69.21" cy="268.15" r="5.2" fill="#f0a2a2"/><circle cx="70.84" cy="267.30" r="5.2" fill="#f0a2a2"/><circle cx="72.46" cy="267.01" r="5.2" fill="#f0a2a2"/><circle cx="74.08" cy="267.34" r="5.2" fill="#f0a2a2"/><circle cx="75.70" cy="267.12" r="5.2" fill="#f0a2a2"/><circle cx="77.33" cy="267.81" r="5.2" fill="#f0a2a2"/><circle cx="78.95" cy="267.18" r="5.2" fill="#f0a2a2"/><circle cx="80.57" cy="267.84" r="5.2" fill="#f0a2a2"/><circle cx="82.19" cy="267.62" r="5.2" fill="#f0a2a2"/><circle cx="83.82" cy="267.10" r="5.2" fill="#f0a2a2"/><circle cx="85.44" cy="267.11" r="5.2" fill="#f0a2a2"/><circle cx="87.06" cy="266.67" r="5.2" fill="#f0a2a2"/><circle cx="88.68" cy="267.21" r="5.2" fill="#f0a2a2"/><circle cx="90.30" cy="266.92" r="5.2" fill="#f0a2a2"/><circle cx="91.93" cy="267.65" r="5.2" fill="#f0a2a2"/><circle cx="93.55" cy="267.66" r="5.2" fill="#f0a2a2"/><circle cx="95.17" cy="267.36" r="5.2" fill="#f0a2a2"/><circle cx="96.79" cy="267.01" r="5.2" fill="#f0a2a2"/><circle cx="98.42" cy="267.32" r="5.2" fill="#f0a2a2"/><circle cx="100.04" cy="266.96" r="5.2" fill="#f0a2a2"/><circle cx="101.66" cy="267.67" r="5.2" fill="#f0a2a2"/><circle cx="103.28" cy="267.05" r="5.2" fill="#f0a2a2"/><circle cx="104.91" cy="267.23" r="5.2" fill="#f0a2a2"/><circle cx="106.53" cy="267.39" r="5.2" fill="#f0a2a2"/><circle cx="108.15" cy="267.11" r="5.2" fill="#f0a2a2"/><circle cx="109.77" cy="267.65" r="5.2" fill="#f0a2a2"/><circle cx="111.40" cy="267.44" r="5.2" fill="#f0a2a2"/><circle cx="113.02" cy="267.68" r="5.2" fill="#f0a2a2"/><circle cx="114.64" cy="267.70" r="5.2" fill="#f0a2a2"/><circle cx="116.26" cy="267.36" r="5.2" fill="#f0a2a2"/><circle cx="117.89" cy="267.26" r="5.2" fill="#f0a2a2"/><circle cx="119.51" cy="266.78" r="5.2" fill="#f0a2a2"/><circle cx="121.13" cy="266.61" r="5.2" fill="#f0a2a2"/><circle cx="122.75" cy="267.46" r="5.2" fill="#f0a2a2"/><circle cx="124.38" cy="267.23" r="5.2" fill="#f0a2a2"/><circle cx="126.00" cy="267.56" r="5.2" fill="#f0a2a2"/><circle cx="127.62" cy="266.99" r="5.2" fill="#f0a2a2"/><circle cx="129.24" cy="267.28" r="5.2" fill="#f0a2a2"/><circle cx="130.86" cy="267.17" r="5.2" fill="#f0a2a2"/><circle cx="132.49" cy="267.31" r="5.2" fill="#f0a2a2"/><circle cx="134.11" cy="267.02" r="5.2" fill="#f0a2a2"/><circle cx="135.73" cy="266.45" r="5.2" fill="#f0a2a2"/><circle cx="137.35" cy="266.58" r="5.2" fill="#f0a2a2"/><circle cx="138.98" cy="266.56" r="5.2" fill="#f0a2a2"/><circle cx="140.60" cy="266.43" r="5.2" fill="#f0a2a2"/><circle cx="142.22" cy="267.20" r="5.2" fill="#f0a2a2"/><circle cx="143.84" cy="267.08" r="5.2" fill="#f0a2a2"/><circle cx="145.47" cy="267.20" r="5.2" fill="#f0a2a2"/><circle cx="147.09" cy="268.00" r="5.2" fill="#f0a2a2"/><circle cx="148.71" cy="268.31" r="5.2" fill="#f0a2a2"/><circle cx="150.33" cy="268.67" r="5.2" fill="#f0a2a2"/><circle cx="151.96" cy="268.88" r="5.2" fill="#f0a2a2"/><circle cx="153.58" cy="268.01" r="5.2" fill="#f0a2a2"/><circle cx="155.20" cy="267.70" r="5.2" fill="#f0a2a2"/><circle cx="156.82" cy="267.20" r="5.2" fill="#f0a2a2"/><circle cx="158.45" cy="267.83" r="5.2" fill="#f0a2a2"/><circle cx="160.07" cy="268.21" r="5.2" fill="#f0a2a2"/><circle cx="161.69" cy="268.02" r="5.2" fill="#f0a2a2"/><circle cx="163.31" cy="268.01" r="5.2" fill="#f0a2a2"/><circle cx="164.94" cy="268.38" r="5.2" fill="#f0a2a2"/><circle cx="166.56" cy="268.67" r="5.2" fill="#f0a2a2"/><circle cx="168.18" cy="268.23" r="5.2" fill="#f0a2a2"/><circle cx="169.80" cy="268.82" r="5.2" fill="#f0a2a2"/><circle cx="171.42" cy="268.50" r="5.2" fill="#f0a2a2"/><circle cx="173.05" cy="268.71" r="5.2" fill="#f0a2a2"/><circle cx="174.67" cy="268.23" r="5.2" fill="#f0a2a2"/><circle cx="176.29" cy="267.87" r="5.2" fill="#f0a2a2"/><circle cx="177.91" cy="268.79" r="5.2" fill="#f0a2a2"/><circle cx="179.54" cy="269.11" r="5.2" fill="#f0a2a2"/><circle cx="181.16" cy="269.29" r="5.2" fill="#f0a2a2"/><circle cx="182.78" cy="268.48" r="5.2" fill="#f0a2a2"/><circle cx="184.40" cy="268.00" r="5.2" fill="#f0a2a2"/><circle cx="186.03" cy="267.91" r="5.2" fill="#f0a2a2"/><circle cx="187.65" cy="267.92" r="5.2" fill="#f0a2a2"/><circle cx="189.27" cy="268.10" r="5.2" fill="#f0a2a2"/><circle cx="190.89" cy="268.33" r="5.2" fill="#f0a2a2"/><circle cx="192.52" cy="268.01" r="5.2" fill="#f0a2a2"/><circle cx="194.14" cy="268.21" r="5.2" fill="#f0a2a2"/><circle cx="195.76" cy="268.81" r="5.2" fill="#f0a2a2"/><circle cx="197.38" cy="268.55" r="5.2" fill="#f0a2a2"/><circle cx="199.01" cy="269.33" r="5.2" fill="#f0a2a2"/><circle cx="200.63" cy="269.45" r="5.2" fill="#f0a2a2"/><circle cx="202.25" cy="269.31" r="5.2" fill="#f0a2a2"/><circle cx="203.87" cy="268.42" r="5.2" fill="#f0a2a2"/><circle cx="205.50" cy="268.25" r="5.2" fill="#f0a2a2"/><circle cx="207.12" cy="268.59" r="5.2" fill="#f0a2a2"/><circle cx="208.74" cy="268.33" r="5.2" fill="#f0a2a2"/><circle cx="210.36" cy="267.69" r="5.2" fill="#f0a2a2"/><circle cx="211.98" cy="268.49" r="5.2" fill="#f0a2a2"/><circle cx="213.61" cy="268.89" r="5.2" fill="#f0a2a2"/><circle cx="215.23" cy="268.44" r="5.2" fill="#f0a2a2"/><circle cx="216.85" cy="267.84" r="5.2" fill="#f0a2a2"/><circle cx="218.47" cy="268.62" r="5.2" fill="#f0a2a2"/><circle cx="220.10" cy="268.74" r="5.2" fill="#f0a2a2"/><circle cx="221.72" cy="268.04" r="5.2" fill="#f0a2a2"/><circle cx="223.34" cy="267.89" r="5.2" fill="#f0a2a2"/><circle cx="224.96" cy="267.62" r="5.2" fill="#f0a2a2"/><circle cx="226.59" cy="268.42" r="5.2" fill="#f0a2a2"/><circle cx="228.21" cy="268.09" r="5.2" fill="#f0a2a2"/><circle cx="229.83" cy="268.88" r="5.2" fill="#f0a2a2"/><circle cx="231.45" cy="269.12" r="5.2" fill="#f0a2a2"/><circle cx="233.08" cy="268.35" r="5.2" fill="#f0a2a2"/><circle cx="234.70" cy="268.74" r="5.2" fill="#f0a2a2"/><circle cx="236.32" cy="268.55" r="5.2" fill="#f0a2a2"/><circle cx="237.94" cy="268.94" r="5.2" fill="#f0a2a2"/><circle cx="239.57" cy="269.30" r="5.2" fill="#f0a2a2"/><circle cx="241.19" cy="268.74" r="5.2" fill="#f0a2a2"/><circle cx="242.81" cy="268.15" r="5.2" fill="#f0a2a2"/><circle cx="244.43" cy="268.99" r="5.2" fill="#f0a2a2"/><circle cx="246.06" cy="268.78" r="5.2" fill="#f0a2a2"/><circle cx="247.68" cy="269.38" r="5.2" fill="#f0a2a2"/><circle cx="249.30" cy="269.44" r="5.2" fill="#f0a2a2"/><circle cx="250.92" cy="269.56" r="5.2" fill="#f0a2a2"/><circle cx="252.54" cy="269.78" r="5.2" fill="#f0a2a2"/><circle cx="254.17" cy="269.65" r="5.2" fill="#f0a2a2"/><circle cx="255.79" cy="269.35" r="5.2" fill="#f0a2a2"/><circle cx="257.41" cy="268.63" r="5.2" fill="#f0a2a2"/><circle cx="259.03" cy="269.12" r="5.2" fill="#f0a2a2"/><circle cx="260.66" cy="269.05" r="5.2" fill="#f0a2a2"/><circle cx="262.28" cy="269.15" r="5.2" fill="#f0a2a2"/><circle cx="263.90" cy="269.81" r="5.2" fill="#f0a2a2"/><circle cx="265.52" cy="269.11" r="5.2" fill="#f0a2a2"/><circle cx="267.15" cy="269.60" r="5.2" fill="#f0a2a2"/><circle cx="268.77" cy="268.90" r="5.2" fill="#f0a2a2"/><circle cx="270.39" cy="269.43" r="5.2" fill="#f0a2a2"/><circle cx="272.01" cy="269.91" r="5.2" fill="#f0a2a2"/><circle cx="273.64" cy="269.45" r="5.2" fill="#f0a2a2"/><circle cx="275.26" cy="269.60" r="5.2" fill="#f0a2a2"/><circle cx="276.88" cy="270.30" r="5.2" fill="#f0a2a2"/><circle cx="278.50" cy="270.28" r="5.2" fill="#f0a2a2"/><circle cx="280.13" cy="270.08" r="5.2" fill="#f0a2a2"/><circle cx="281.75" cy="269.52" r="5.2" fill="#f0a2a2"/><circle cx="283.37" cy="268.89" r="5.2" fill="#f0a2a2"/><circle cx="284.99" cy="268.91" r="5.2" fill="#f0a2a2"/><circle cx="286.62" cy="268.98" r="5.2" fill="#f0a2a2"/><circle cx="288.24" cy="268.71" r="5.2" fill="#f0a2a2"/><circle cx="289.86" cy="268.68" r="5.2" fill="#f0a2a2"/><circle cx="291.48" cy="268.40" r="5.2" fill="#f0a2a2"/><circle cx="293.10" cy="269.01" r="5.2" fill="#f0a2a2"/><circle cx="294.73" cy="269.31" r="5.2" fill="#f0a2a2"/><circle cx="296.35" cy="268.86" r="5.2" fill="#f0a2a2"/><circle cx="297.97" cy="268.57" r="5.2" fill="#f0a2a2"/><circle cx="299.59" cy="268.77" r="5.2" fill="#f0a2a2"/><circle cx="301.22" cy="268.77" r="5.2" fill="#f0a2a2"/><circle cx="302.84" cy="269.43" r="5.2" fill="#f0a2a2"/><circle cx="304.46" cy="268.99" r="5.2" fill="#f0a2a2"/><circle cx="306.08" cy="268.64" r="5.2" fill="#f0a2a2"/><circle cx="307.71" cy="269.23" r="5.2" fill="#f0a2a2"/><circle cx="309.33" cy="268.45" r="5.2" fill="#f0a2a2"/><circle cx="310.95" cy="268.41" r="5.2" fill="#f0a2a2"/><circle cx="312.57" cy="267.96" r="5.2" fill="#f0a2a2"/><circle cx="314.20" cy="268.28" r="5.2" fill="#f0a2a2"/><circle cx="315.82" cy="268.25" r="5.2" fill="#f0a2a2"/><circle cx="317.44" cy="268.53" r="5.2" fill="#f0a2a2"/><circle cx="319.06" cy="267.88" r="5.2" fill="#f0a2a2"/><circle cx="320.69" cy="268.18" r="5.2" fill="#f0a2a2"/><circle cx="322.31" cy="268.28" r="5.2" fill="#f0a2a2"/><circle cx="323.93" cy="268.15" r="5.2" fill="#f0a2a2"/><circle cx="325.55" cy="268.50" r="5.2" fill="#f0a2a2"/><circle cx="327.18" cy="268.81" r="5.2" fill="#f0a2a2"/><circle cx="328.80" cy="267.99" r="5.2" fill="#f0a2a2"/><circle cx="330.42" cy="267.75" r="5.2" fill="#f0a2a2"/><circle cx="332.04" cy="267.71" r="5.2" fill="#f0a2a2"/><circle cx="333.66" cy="267.47" r="5.2" fill="#f0a2a2"/><circle cx="335.29" cy="267.12" r="5.2" fill="#f0a2a2"/><circle cx="336.91" cy="267.22" r="5.2" fill="#f0a2a2"/><circle cx="338.53" cy="267.17" r="5.2" fill="#f0a2a2"/><circle cx="340.15" cy="267.85" r="5.2" fill="#f0a2a2"/><circle cx="341.78" cy="267.90" r="5.2" fill="#f0a2a2"/><circle cx="343.40" cy="267.47" r="5.2" fill="#f0a2a2"/><circle cx="345.02" cy="267.51" r="5.2" fill="#f0a2a2"/><circle cx="346.64" cy="267.74" r="5.2" fill="#f0a2a2"/><circle cx="348.27" cy="267.73" r="5.2" fill="#f0a2a2"/><circle cx="349.89" cy="267.45" r="5.2" fill="#f0a2a2"/><circle cx="351.51" cy="267.16" r="5.2" fill="#f0a2a2"/><circle cx="353.13" cy="266.89" r="5.2" fill="#f0a2a2"/><circle cx="354.76" cy="268.11" r="5.2" fill="#f0a2a2"/><circle cx="356.38" cy="268.51" r="5.2" fill="#f0a2a2"/><circle cx="358.00" cy="267.82" r="5.2" fill="#f0a2a2"/><circle cx="359.62" cy="268.29" r="5.2" fill="#f0a2a2"/><circle cx="361.25" cy="268.95" r="5.2" fill="#f0a2a2"/><circle cx="362.87" cy="268.76" r="5.2" fill="#f0a2a2"/><circle cx="364.49" cy="268.01" r="5.2" fill="#f0a2a2"/><circle cx="366.11" cy="268.10" r="5.2" fill="#f0a2a2"/><circle cx="367.74" cy="268.08" r="5.2" fill="#f0a2a2"/><circle cx="369.36" cy="267.72" r="5.2" fill="#f0a2a2"/><circle cx="370.98" cy="268.01" r="5.2" fill="#f0a2a2"/><circle cx="372.60" cy="267.44" r="5.2" fill="#f0a2a2"/><circle cx="374.22" cy="268.37" r="5.2" fill="#f0a2a2"/><circle cx="375.85" cy="268.55" r="5.2" fill="#f0a2a2"/><circle cx="377.47" cy="268.65" r="5.2" fill="#f0a2a2"/><circle cx="379.09" cy="269.16" r="5.2" fill="#f0a2a2"/><circle cx="380.71" cy="269.08" r="5.2" fill="#f0a2a2"/><circle cx="382.34" cy="268.48" r="5.2" fill="#f0a2a2"/><circle cx="383.96" cy="268.13" r="5.2" fill="#f0a2a2"/><circle cx="385.58" cy="267.78" r="5.2" fill="#f0a2a2"/><circle cx="387.20" cy="267.42" r="5.2" fill="#f0a2a2"/><circle cx="388.83" cy="268.27" r="5.2" fill="#f0a2a2"/><circle cx="390.45" cy="268.88" r="5.2" fill="#f0a2a2"/><circle cx="392.07" cy="268.50" r="5.2" fill="#f0a2a2"/><circle cx="393.69" cy="268.12" r="5.2" fill="#f0a2a2"/><circle cx="395.32" cy="268.55" r="5.2" fill="#f0a2a2"/><circle cx="396.94" cy="269.10" r="5.2" fill="#f0a2a2"/><circle cx="398.56" cy="269.56" r="5.2" fill="#f0a2a2"/><circle cx="400.18" cy="268.79" r="5.2" fill="#f0a2a2"/><circle cx="401.81" cy="269.20" r="5.2" fill="#f0a2a2"/><circle cx="403.43" cy="269.52" r="5.2" fill="#f0a2a2"/><circle cx="405.05" cy="269.60" r="5.2" fill="#f0a2a2"/><circle cx="406.67" cy="269.08" r="5.2" fill="#f0a2a2"/><circle cx="408.30" cy="268.58" r="5.2" fill="#f0a2a2"/><circle cx="409.92" cy="269.21" r="5.2" fill="#f0a2a2"/><circle cx="411.54" cy="268.91" r="5.2" fill="#f0a2a2"/><circle cx="413.16" cy="268.83" r="5.2" fill="#f0a2a2"/><circle cx="414.78" cy="269.06" r="5.2" fill="#f0a2a2"/><circle cx="416.41" cy="268.96" r="5.2" fill="#f0a2a2"/><circle cx="418.03" cy="269.58" r="5.2" fill="#f0a2a2"/><circle cx="419.65" cy="269.15" r="5.2" fill="#f0a2a2"/><circle cx="421.27" cy="268.63" r="5.2" fill="#f0a2a2"/><circle cx="422.90" cy="269.09" r="5.2" fill="#f0a2a2"/><circle cx="424.52" cy="269.47" r="5.2" fill="#f0a2a2"/><circle cx="426.14" cy="269.99" r="5.2" fill="#f0a2a2"/><circle cx="427.76" cy="270.17" r="5.2" fill="#f0a2a2"/><circle cx="429.39" cy="270.58" r="5.2" fill="#f0a2a2"/><circle cx="431.01" cy="270.91" r="5.2" fill="#f0a2a2"/><circle cx="432.63" cy="270.50" r="5.2" fill="#f0a2a2"/><circle cx="434.25" cy="270.28" r="5.2" fill="#f0a2a2"/><circle cx="435.88" cy="269.70" r="5.2" fill="#f0a2a2"/><circle cx="437.50" cy="269.58" r="5.2" fill="#f0a2a2"/><circle cx="439.12" cy="269.92" r="5.2" fill="#f0a2a2"/><circle cx="440.74" cy="269.17" r="5.2" fill="#f0a2a2"/><circle cx="442.37" cy="268.91" r="5.2" fill="#f0a2a2"/><circle cx="443.99" cy="267.71" r="5.2" fill="#f0a2a2"/><circle cx="445.61" cy="267.59" r="5.2" fill="#f0a2a2"/><circle cx="447.23" cy="268.42" r="5.2" fill="#f0a2a2"/><circle cx="448.86" cy="267.68" r="5.2" fill="#f0a2a2"/><circle cx="450.48" cy="267.17" r="5.2" fill="#f0a2a2"/><circle cx="452.10" cy="267.42" r="5.2" fill="#f0a2a2"/><circle cx="453.72" cy="267.23" r="5.2" fill="#f0a2a2"/><circle cx="455.34" cy="267.86" r="5.2" fill="#f0a2a2"/><circle cx="456.97" cy="267.23" r="5.2" fill="#f0a2a2"/><circle cx="458.59" cy="268.03" r="5.2" fill="#f0a2a2"/><circle cx="460.21" cy="268.53" r="5.2" fill="#f0a2a2"/><circle cx="461.83" cy="268.73" r="5.2" fill="#f0a2a2"/><circle cx="463.46" cy="268.35" r="5.2" fill="#f0a2a2"/><circle cx="465.08" cy="267.92" r="5.2" fill="#f0a2a2"/><circle cx="466.70" cy="268.20" r="5.2" fill="#f0a2a2"/><circle cx="468.32" cy="268.16" r="5.2" fill="#f0a2a2"/><circle cx="469.95" cy="268.00" r="5.2" fill="#f0a2a2"/><circle cx="471.57" cy="267.80" r="5.2" fill="#f0a2a2"/><circle cx="473.19" cy="267.81" r="5.2" fill="#f0a2a2"/><circle cx="474.81" cy="268.14" r="5.2" fill="#f0a2a2"/><circle cx="476.44" cy="268.57" r="5.2" fill="#f0a2a2"/><circle cx="478.06" cy="268.93" r="5.2" fill="#f0a2a2"/><circle cx="479.68" cy="268.12" r="5.2" fill="#f0a2a2"/><circle cx="481.30" cy="267.81" r="5.2" fill="#f0a2a2"/><circle cx="482.93" cy="267.84" r="5.2" fill="#f0a2a2"/><circle cx="484.55" cy="268.02" r="5.2" fill="#f0a2a2"/><circle cx="486.17" cy="267.83" r="5.2" fill="#f0a2a2"/><circle cx="487.79" cy="267.50" r="5.2" fill="#f0a2a2"/><circle cx="489.42" cy="267.16" r="5.2" fill="#f0a2a2"/><circle cx="491.04" cy="267.28" r="5.2" fill="#f0a2a2"/><circle cx="492.66" cy="267.55" r="5.2" fill="#f0a2a2"/><circle cx="494.28" cy="268.43" r="5.2" fill="#f0a2a2"/><circle cx="495.90" cy="268.87" r="5.2" fill="#f0a2a2"/><circle cx="497.53" cy="269.07" r="5.2" fill="#f0a2a2"/><circle cx="499.15" cy="269.35" r="5.2" fill="#f0a2a2"/><circle cx="500.77" cy="269.50" r="5.2" fill="#f0a2a2"/><circle cx="502.39" cy="269.17" r="5.2" fill="#f0a2a2"/><circle cx="504.02" cy="269.26" r="5.2" fill="#f0a2a2"/><circle cx="505.64" cy="268.29" r="5.2" fill="#f0a2a2"/><circle cx="507.26" cy="268.59" r="5.2" fill="#f0a2a2"/><circle cx="508.88" cy="268.70" r="5.2" fill="#f0a2a2"/><circle cx="510.51" cy="268.36" r="5.2" fill="#f0a2a2"/><circle cx="512.13" cy="268.56" r="5.2" fill="#f0a2a2"/><circle cx="513.75" cy="269.24" r="5.2" fill="#f0a2a2"/><circle cx="515.37" cy="269.01" r="5.2" fill="#f0a2a2"/><circle cx="517.00" cy="269.13" r="5.2" fill="#f0a2a2"/><circle cx="518.62" cy="268.74" r="5.2" fill="#f0a2a2"/><circle cx="520.24" cy="268.59" r="5.2" fill="#f0a2a2"/><circle cx="521.86" cy="269.28" r="5.2" fill="#f0a2a2"/><circle cx="523.49" cy="268.52" r="5.2" fill="#f0a2a2"/><circle cx="525.11" cy="268.31" r="5.2" fill="#f0a2a2"/><circle cx="526.73" cy="268.90" r="5.2" fill="#f0a2a2"/><circle cx="528.35" cy="268.95" r="5.2" fill="#f0a2a2"/><circle cx="529.98" cy="268.50" r="5.2" fill="#f0a2a2"/><circle cx="531.60" cy="269.05" r="5.2" fill="#f0a2a2"/><circle cx="533.22" cy="269.01" r="5.2" fill="#f0a2a2"/><circle cx="534.84" cy="269.29" r="5.2" fill="#f0a2a2"/><circle cx="536.46" cy="269.24" r="5.2" fill="#f0a2a2"/><circle cx="538.09" cy="269.40" r="5.2" fill="#f0a2a2"/><circle cx="539.71" cy="269.56" r="5.2" fill="#f0a2a2"/><circle cx="541.33" cy="269.44" r="5.2" fill="#f0a2a2"/><circle cx="542.95" cy="268.99" r="5.2" fill="#f0a2a2"/><circle cx="544.58" cy="268.83" r="5.2" fill="#f0a2a2"/><circle cx="546.20" cy="269.75" r="5.2" fill="#f0a2a2"/><circle cx="547.82" cy="269.84" r="5.2" fill="#f0a2a2"/><circle cx="549.44" cy="269.31" r="5.2" fill="#f0a2a2"/><circle cx="551.07" cy="270.06" r="5.2" fill="#f0a2a2"/><circle cx="552.69" cy="269.68" r="5.2" fill="#f0a2a2"/><circle cx="554.31" cy="269.24" r="5.2" fill="#f0a2a2"/><circle cx="555.93" cy="269.61" r="5.2" fill="#f0a2a2"/><circle cx="557.56" cy="269.46" r="5.2" fill="#f0a2a2"/><circle cx="559.18" cy="269.73" r="5.2" fill="#f0a2a2"/><circle cx="560.80" cy="270.00" r="5.2" fill="#f0a2a2"/><circle cx="562.42" cy="269.72" r="5.2" fill="#f0a2a2"/><circle cx="564.05" cy="269.58" r="5.2" fill="#f0a2a2"/><circle cx="565.67" cy="268.45" r="5.2" fill="#f0a2a2"/><circle cx="567.29" cy="268.07" r="5.2" fill="#f0a2a2"/><circle cx="568.91" cy="267.90" r="5.2" fill="#f0a2a2"/><circle cx="570.54" cy="267.36" r="5.2" fill="#f0a2a2"/><circle cx="572.16" cy="267.50" r="5.2" fill="#f0a2a2"/><circle cx="573.78" cy="267.11" r="5.2" fill="#f0a2a2"/><circle cx="575.40" cy="267.39" r="5.2" fill="#f0a2a2"/><circle cx="577.02" cy="268.16" r="5.2" fill="#f0a2a2"/><circle cx="578.65" cy="268.18" r="5.2" fill="#f0a2a2"/><circle cx="580.27" cy="268.43" r="5.2" fill="#f0a2a2"/><circle cx="581.89" cy="268.64" r="5.2" fill="#f0a2a2"/><circle cx="583.51" cy="267.87" r="5.2" fill="#f0a2a2"/><circle cx="585.14" cy="268.63" r="5.2" fill="#f0a2a2"/><circle cx="586.76" cy="268.72" r="5.2" fill="#f0a2a2"/><circle cx="588.38" cy="267.90" r="5.2" fill="#f0a2a2"/><circle cx="590.00" cy="268.44" r="5.2" fill="#f0a2a2"/><circle cx="591.63" cy="268.14" r="5.2" fill="#f0a2a2"/><circle cx="593.25" cy="267.66" r="5.2" fill="#f0a2a2"/><circle cx="594.87" cy="268.48" r="5.2" fill="#f0a2a2"/><circle cx="596.49" cy="268.42" r="5.2" fill="#f0a2a2"/><circle cx="598.12" cy="268.68" r="5.2" fill="#f0a2a2"/><circle cx="599.74" cy="267.94" r="5.2" fill="#f0a2a2"/><circle cx="601.36" cy="268.40" r="5.2" fill="#f0a2a2"/><circle cx="602.98" cy="267.67" r="5.2" fill="#f0a2a2"/><circle cx="604.61" cy="267.49" r="5.2" fill="#f0a2a2"/><circle cx="606.23" cy="267.57" r="5.2" fill="#f0a2a2"/><circle cx="607.85" cy="267.12" r="5.2" fill="#f0a2a2"/><circle cx="609.47" cy="267.66" r="5.2" fill="#f0a2a2"/><circle cx="611.10" cy="267.45" r="5.2" fill="#f0a2a2"/><circle cx="612.72" cy="267.46" r="5.2" fill="#f0a2a2"/><circle cx="614.34" cy="268.03" r="5.2" fill="#f0a2a2"/><circle cx="615.96" cy="267.98" r="5.2" fill="#f0a2a2"/><circle cx="617.58" cy="268.60" r="5.2" fill="#f0a2a2"/><circle cx="619.21" cy="268.60" r="5.2" fill="#f0a2a2"/><circle cx="620.83" cy="268.95" r="5.2" fill="#f0a2a2"/><circle cx="622.45" cy="268.74" r="5.2" fill="#f0a2a2"/><circle cx="624.07" cy="269.10" r="5.2" fill="#f0a2a2"/><circle cx="625.70" cy="269.26" r="5.2" fill="#f0a2a2"/><circle cx="627.32" cy="268.37" r="5.2" fill="#f0a2a2"/>
<circle cx="90.30" cy="267.60" r="5.5" fill="#f0a2a2"/><circle cx="94.75" cy="267.16" r="5.5" fill="#f0a2a2"/><circle cx="99.20" cy="267.70" r="5.5" fill="#f0a2a2"/><circle cx="103.65" cy="267.65" r="5.5" fill="#f0a2a2"/><circle cx="108.10" cy="267.86" r="5.5" fill="#f0a2a2"/><circle cx="112.55" cy="267.05" r="5.5" fill="#f0a2a2"/><circle cx="117.00" cy="267.35" r="5.5" fill="#f0a2a2"/><circle cx="121.45" cy="267.78" r="5.5" fill="#f0a2a2"/><circle cx="125.90" cy="268.04" r="5.5" fill="#f0a2a2"/><circle cx="130.35" cy="267.77" r="5.5" fill="#f0a2a2"/><circle cx="212.53" cy="267.94" r="5.5" fill="#f0a2a2"/><circle cx="216.98" cy="268.64" r="5.5" fill="#f0a2a2"/><circle cx="221.43" cy="268.06" r="5.5" fill="#f0a2a2"/><circle cx="225.88" cy="268.63" r="5.5" fill="#f0a2a2"/><circle cx="230.33" cy="268.96" r="5.5" fill="#f0a2a2"/><circle cx="234.78" cy="268.16" r="5.5" fill="#f0a2a2"/><circle cx="239.23" cy="269.16" r="5.5" fill="#f0a2a2"/><circle cx="243.68" cy="268.89" r="5.5" fill="#f0a2a2"/><circle cx="328.26" cy="267.81" r="5.5" fill="#f0a2a2"/><circle cx="332.71" cy="267.75" r="5.5" fill="#f0a2a2"/><circle cx="337.16" cy="268.07" r="5.5" fill="#f0a2a2"/><circle cx="341.61" cy="268.56" r="5.5" fill="#f0a2a2"/><circle cx="346.06" cy="268.27" r="5.5" fill="#f0a2a2"/><circle cx="350.51" cy="267.73" r="5.5" fill="#f0a2a2"/><circle cx="354.96" cy="267.64" r="5.5" fill="#f0a2a2"/><circle cx="359.41" cy="267.76" r="5.5" fill="#f0a2a2"/><circle cx="363.86" cy="268.61" r="5.5" fill="#f0a2a2"/><circle cx="368.31" cy="267.89" r="5.5" fill="#f0a2a2"/><circle cx="372.76" cy="268.35" r="5.5" fill="#f0a2a2"/><circle cx="448.31" cy="267.75" r="5.5" fill="#f0a2a2"/><circle cx="452.76" cy="268.24" r="5.5" fill="#f0a2a2"/><circle cx="457.21" cy="267.88" r="5.5" fill="#f0a2a2"/><circle cx="461.66" cy="267.60" r="5.5" fill="#f0a2a2"/><circle cx="466.11" cy="268.49" r="5.5" fill="#f0a2a2"/><circle cx="470.56" cy="268.09" r="5.5" fill="#f0a2a2"/><circle cx="475.01" cy="268.28" r="5.5" fill="#f0a2a2"/><circle cx="479.46" cy="268.43" r="5.5" fill="#f0a2a2"/><circle cx="483.91" cy="268.61" r="5.5" fill="#f0a2a2"/><circle cx="488.36" cy="267.49" r="5.5" fill="#f0a2a2"/><circle cx="492.81" cy="267.90" r="5.5" fill="#f0a2a2"/><circle cx="497.26" cy="267.67" r="5.5" fill="#f0a2a2"/><circle cx="570.54" cy="268.01" r="5.5" fill="#f0a2a2"/><circle cx="574.99" cy="268.47" r="5.5" fill="#f0a2a2"/><circle cx="579.44" cy="268.40" r="5.5" fill="#f0a2a2"/><circle cx="583.89" cy="267.49" r="5.5" fill="#f0a2a2"/><circle cx="588.34" cy="267.69" r="5.5" fill="#f0a2a2"/><circle cx="592.79" cy="268.46" r="5.5" fill="#f0a2a2"/><circle cx="597.24" cy="268.31" r="5.5" fill="#f0a2a2"/><circle cx="601.69" cy="267.98" r="5.5" fill="#f0a2a2"/><circle cx="606.14" cy="268.10" r="5.5" fill="#f0a2a2"/><circle cx="610.59" cy="267.73" r="5.5" fill="#f0a2a2"/><circle cx="615.04" cy="268.57" r="5.5" fill="#f0a2a2"/><circle cx="619.49" cy="268.04" r="5.5" fill="#f0a2a2"/><circle cx="623.94" cy="268.63" r="5.5" fill="#f0a2a2"/>
<rect x="89.25" y="265.25" width="2.1" height="2.1" fill="#fff"/><rect x="93.70" y="265.30" width="2.1" height="2.1" fill="#fff"/><rect x="98.15" y="265.34" width="2.1" height="2.1" fill="#fff"/><rect x="102.60" y="265.38" width="2.1" height="2.1" fill="#fff"/><rect x="107.05" y="265.42" width="2.1" height="2.1" fill="#fff"/><rect x="111.50" y="265.45" width="2.1" height="2.1" fill="#fff"/><rect x="115.95" y="265.45" width="2.1" height="2.1" fill="#fff"/><rect x="120.40" y="265.45" width="2.1" height="2.1" fill="#fff"/><rect x="124.85" y="265.45" width="2.1" height="2.1" fill="#fff"/><rect x="129.30" y="265.45" width="2.1" height="2.1" fill="#fff"/><rect x="211.48" y="266.43" width="2.1" height="2.1" fill="#fff"/><rect x="215.93" y="266.47" width="2.1" height="2.1" fill="#fff"/><rect x="220.38" y="266.49" width="2.1" height="2.1" fill="#fff"/><rect x="224.83" y="266.52" width="2.1" height="2.1" fill="#fff"/><rect x="229.28" y="266.55" width="2.1" height="2.1" fill="#fff"/><rect x="233.73" y="266.58" width="2.1" height="2.1" fill="#fff"/><rect x="238.18" y="266.60" width="2.1" height="2.1" fill="#fff"/><rect x="242.63" y="266.63" width="2.1" height="2.1" fill="#fff"/><rect x="327.21" y="266.05" width="2.1" height="2.1" fill="#fff"/><rect x="331.66" y="266.07" width="2.1" height="2.1" fill="#fff"/><rect x="336.11" y="266.09" width="2.1" height="2.1" fill="#fff"/><rect x="340.56" y="266.11" width="2.1" height="2.1" fill="#fff"/><rect x="345.01" y="266.13" width="2.1" height="2.1" fill="#fff"/><rect x="349.46" y="266.14" width="2.1" height="2.1" fill="#fff"/><rect x="353.91" y="266.16" width="2.1" height="2.1" fill="#fff"/><rect x="358.36" y="266.18" width="2.1" height="2.1" fill="#fff"/><rect x="362.81" y="266.20" width="2.1" height="2.1" fill="#fff"/><rect x="367.26" y="266.22" width="2.1" height="2.1" fill="#fff"/><rect x="371.71" y="266.24" width="2.1" height="2.1" fill="#fff"/><rect x="447.26" y="265.96" width="2.1" height="2.1" fill="#fff"/><rect x="451.71" y="265.96" width="2.1" height="2.1" fill="#fff"/><rect x="456.16" y="265.97" width="2.1" height="2.1" fill="#fff"/><rect x="460.61" y="265.98" width="2.1" height="2.1" fill="#fff"/><rect x="465.06" y="265.99" width="2.1" height="2.1" fill="#fff"/><rect x="469.51" y="266.00" width="2.1" height="2.1" fill="#fff"/><rect x="473.96" y="266.00" width="2.1" height="2.1" fill="#fff"/><rect x="478.41" y="266.01" width="2.1" height="2.1" fill="#fff"/><rect x="482.86" y="266.02" width="2.1" height="2.1" fill="#fff"/><rect x="487.31" y="266.03" width="2.1" height="2.1" fill="#fff"/><rect x="491.76" y="266.04" width="2.1" height="2.1" fill="#fff"/><rect x="496.21" y="266.04" width="2.1" height="2.1" fill="#fff"/><rect x="569.49" y="265.96" width="2.1" height="2.1" fill="#fff"/><rect x="573.94" y="265.97" width="2.1" height="2.1" fill="#fff"/><rect x="578.39" y="265.99" width="2.1" height="2.1" fill="#fff"/><rect x="582.84" y="266.00" width="2.1" height="2.1" fill="#fff"/><rect x="587.29" y="266.02" width="2.1" height="2.1" fill="#fff"/><rect x="591.74" y="266.03" width="2.1" height="2.1" fill="#fff"/><rect x="596.19" y="266.05" width="2.1" height="2.1" fill="#fff"/><rect x="600.64" y="266.06" width="2.1" height="2.1" fill="#fff"/><rect x="605.09" y="266.08" width="2.1" height="2.1" fill="#fff"/><rect x="609.54" y="266.09" width="2.1" height="2.1" fill="#fff"/><rect x="613.99" y="266.11" width="2.1" height="2.1" fill="#fff"/><rect x="618.44" y="266.12" width="2.1" height="2.1" fill="#fff"/><rect x="622.89" y="266.14" width="2.1" height="2.1" fill="#fff"/><rect x="57.32" y="265.20" width="0.8" height="3.6" fill="#fff" opacity="0.5"/><rect x="59.42" y="265.02" width="0.8" height="3.6" fill="#fff" opacity="0.5"/><rect x="61.52" y="264.84" width="0.8" height="3.6" fill="#fff" opacity="0.5"/><rect x="63.62" y="264.66" width="0.8" height="3.6" fill="#fff" opacity="0.5"/><rect x="65.72" y="264.48" width="0.8" height="3.6" fill="#fff" opacity="0.5"/><rect x="67.82" y="264.29" width="0.8" height="3.6" fill="#fff" opacity="0.5"/><rect x="69.92" y="264.11" width="0.8" height="3.6" fill="#fff" opacity="0.5"/><rect x="72.02" y="263.93" width="0.8" height="3.6" fill="#fff" opacity="0.5"/><rect x="74.12" y="263.80" width="0.8" height="3.6" fill="#fff" opacity="0.5"/><rect x="76.22" y="263.82" width="0.8" height="3.6" fill="#fff" opacity="0.5"/><rect x="78.32" y="263.83" width="0.8" height="3.6" fill="#fff" opacity="0.5"/><rect x="80.42" y="263.84" width="0.8" height="3.6" fill="#fff" opacity="0.5"/><rect x="82.52" y="263.86" width="0.8" height="3.6" fill="#fff" opacity="0.5"/><rect x="84.62" y="263.87" width="0.8" height="3.6" fill="#fff" opacity="0.5"/><rect x="86.72" y="263.88" width="0.8" height="3.6" fill="#fff" opacity="0.5"/><rect x="88.82" y="263.89" width="0.8" height="3.6" fill="#fff" opacity="0.5"/><rect x="134.65" y="263.98" width="0.8" height="3.6" fill="#fff" opacity="0.5"/><rect x="136.75" y="263.93" width="0.8" height="3.6" fill="#fff" opacity="0.5"/><rect x="138.85" y="264.00" width="0.8" height="3.6" fill="#fff" opacity="0.5"/><rect x="140.95" y="264.08" width="0.8" height="3.6" fill="#fff" opacity="0.5"/><rect x="143.05" y="264.15" width="0.8" height="3.6" fill="#fff" opacity="0.5"/><rect x="145.15" y="264.22" width="0.8" height="3.6" fill="#fff" opacity="0.5"/><rect x="147.25" y="264.29" width="0.8" height="3.6" fill="#fff" opacity="0.5"/><rect x="149.35" y="264.36" width="0.8" height="3.6" fill="#fff" opacity="0.5"/><rect x="151.45" y="264.43" width="0.8" height="3.6" fill="#fff" opacity="0.5"/><rect x="153.55" y="264.50" width="0.8" height="3.6" fill="#fff" opacity="0.5"/><rect x="155.65" y="264.57" width="0.8" height="3.6" fill="#fff" opacity="0.5"/><rect x="157.75" y="264.64" width="0.8" height="3.6" fill="#fff" opacity="0.5"/><rect x="159.85" y="264.71" width="0.8" height="3.6" fill="#fff" opacity="0.5"/><rect x="161.95" y="264.78" width="0.8" height="3.6" fill="#fff" opacity="0.5"/><rect x="164.05" y="264.85" width="0.8" height="3.6" fill="#fff" opacity="0.5"/><rect x="166.15" y="264.92" width="0.8" height="3.6" fill="#fff" opacity="0.5"/><rect x="168.25" y="264.98" width="0.8" height="3.6" fill="#fff" opacity="0.5"/><rect x="170.35" y="265.04" width="0.8" height="3.6" fill="#fff" opacity="0.5"/><rect x="172.45" y="265.10" width="0.8" height="3.6" fill="#fff" opacity="0.5"/><rect x="174.55" y="265.16" width="0.8" height="3.6" fill="#fff" opacity="0.5"/><rect x="176.65" y="265.22" width="0.8" height="3.6" fill="#fff" opacity="0.5"/><rect x="178.75" y="265.28" width="0.8" height="3.6" fill="#fff" opacity="0.5"/><rect x="180.85" y="265.34" width="0.8" height="3.6" fill="#fff" opacity="0.5"/><rect x="182.95" y="265.40" width="0.8" height="3.6" fill="#fff" opacity="0.5"/><rect x="185.05" y="265.46" width="0.8" height="3.6" fill="#fff" opacity="0.5"/><rect x="187.15" y="265.52" width="0.8" height="3.6" fill="#fff" opacity="0.5"/><rect x="189.25" y="265.58" width="0.8" height="3.6" fill="#fff" opacity="0.5"/><rect x="191.35" y="265.64" width="0.8" height="3.6" fill="#fff" opacity="0.5"/><rect x="193.45" y="265.70" width="0.8" height="3.6" fill="#fff" opacity="0.5"/><rect x="195.55" y="265.76" width="0.8" height="3.6" fill="#fff" opacity="0.5"/><rect x="197.65" y="265.82" width="0.8" height="3.6" fill="#fff" opacity="0.5"/><rect x="199.75" y="265.88" width="0.8" height="3.6" fill="#fff" opacity="0.5"/><rect x="201.85" y="265.61" width="0.8" height="3.6" fill="#fff" opacity="0.5"/><rect x="246.60" y="265.30" width="0.8" height="3.6" fill="#fff" opacity="0.5"/><rect x="248.70" y="265.36" width="0.8" height="3.6" fill="#fff" opacity="0.5"/><rect x="250.80" y="265.43" width="0.8" height="3.6" fill="#fff" opacity="0.5"/><rect x="252.90" y="265.49" width="0.8" height="3.6" fill="#fff" opacity="0.5"/><rect x="255.00" y="265.56" width="0.8" height="3.6" fill="#fff" opacity="0.5"/><rect x="257.10" y="265.62" width="0.8" height="3.6" fill="#fff" opacity="0.5"/><rect x="259.20" y="265.69" width="0.8" height="3.6" fill="#fff" opacity="0.5"/><rect x="261.30" y="265.75" width="0.8" height="3.6" fill="#fff" opacity="0.5"/><rect x="263.40" y="265.82" width="0.8" height="3.6" fill="#fff" opacity="0.5"/><rect x="265.50" y="265.88" width="0.8" height="3.6" fill="#fff" opacity="0.5"/><rect x="267.60" y="265.95" width="0.8" height="3.6" fill="#fff" opacity="0.5"/><rect x="269.70" y="266.01" width="0.8" height="3.6" fill="#fff" opacity="0.5"/><rect x="271.80" y="266.08" width="0.8" height="3.6" fill="#fff" opacity="0.5"/><rect x="273.90" y="266.14" width="0.8" height="3.6" fill="#fff" opacity="0.5"/><rect x="276.00" y="266.21" width="0.8" height="3.6" fill="#fff" opacity="0.5"/><rect x="278.10" y="266.27" width="0.8" height="3.6" fill="#fff" opacity="0.5"/><rect x="280.20" y="266.27" width="0.8" height="3.6" fill="#fff" opacity="0.5"/><rect x="282.30" y="266.20" width="0.8" height="3.6" fill="#fff" opacity="0.5"/><rect x="284.40" y="266.14" width="0.8" height="3.6" fill="#fff" opacity="0.5"/><rect x="286.50" y="266.07" width="0.8" height="3.6" fill="#fff" opacity="0.5"/><rect x="288.60" y="266.01" width="0.8" height="3.6" fill="#fff" opacity="0.5"/><rect x="290.70" y="265.95" width="0.8" height="3.6" fill="#fff" opacity="0.5"/><rect x="292.80" y="265.88" width="0.8" height="3.6" fill="#fff" opacity="0.5"/><rect x="294.90" y="265.82" width="0.8" height="3.6" fill="#fff" opacity="0.5"/><rect x="297.00" y="265.76" width="0.8" height="3.6" fill="#fff" opacity="0.5"/><rect x="299.10" y="265.69" width="0.8" height="3.6" fill="#fff" opacity="0.5"/><rect x="301.20" y="265.63" width="0.8" height="3.6" fill="#fff" opacity="0.5"/><rect x="303.30" y="265.57" width="0.8" height="3.6" fill="#fff" opacity="0.5"/><rect x="305.40" y="265.50" width="0.8" height="3.6" fill="#fff" opacity="0.5"/><rect x="307.50" y="265.44" width="0.8" height="3.6" fill="#fff" opacity="0.5"/><rect x="309.60" y="265.28" width="0.8" height="3.6" fill="#fff" opacity="0.5"/><rect x="311.70" y="264.97" width="0.8" height="3.6" fill="#fff" opacity="0.5"/><rect x="376.39" y="264.90" width="0.8" height="3.6" fill="#fff" opacity="0.5"/><rect x="378.49" y="264.94" width="0.8" height="3.6" fill="#fff" opacity="0.5"/><rect x="380.59" y="264.98" width="0.8" height="3.6" fill="#fff" opacity="0.5"/><rect x="382.69" y="265.02" width="0.8" height="3.6" fill="#fff" opacity="0.5"/><rect x="384.79" y="265.06" width="0.8" height="3.6" fill="#fff" opacity="0.5"/><rect x="386.89" y="265.09" width="0.8" height="3.6" fill="#fff" opacity="0.5"/><rect x="388.99" y="265.13" width="0.8" height="3.6" fill="#fff" opacity="0.5"/><rect x="391.09" y="265.17" width="0.8" height="3.6" fill="#fff" opacity="0.5"/><rect x="393.19" y="265.21" width="0.8" height="3.6" fill="#fff" opacity="0.5"/><rect x="395.29" y="265.25" width="0.8" height="3.6" fill="#fff" opacity="0.5"/><rect x="397.39" y="265.29" width="0.8" height="3.6" fill="#fff" opacity="0.5"/><rect x="399.49" y="265.33" width="0.8" height="3.6" fill="#fff" opacity="0.5"/><rect x="401.59" y="265.37" width="0.8" height="3.6" fill="#fff" opacity="0.5"/><rect x="403.69" y="265.40" width="0.8" height="3.6" fill="#fff" opacity="0.5"/><rect x="405.79" y="265.44" width="0.8" height="3.6" fill="#fff" opacity="0.5"/><rect x="407.89" y="265.48" width="0.8" height="3.6" fill="#fff" opacity="0.5"/><rect x="409.99" y="265.54" width="0.8" height="3.6" fill="#fff" opacity="0.5"/><rect x="412.09" y="265.62" width="0.8" height="3.6" fill="#fff" opacity="0.5"/><rect x="414.19" y="265.70" width="0.8" height="3.6" fill="#fff" opacity="0.5"/><rect x="416.29" y="265.79" width="0.8" height="3.6" fill="#fff" opacity="0.5"/><rect x="418.39" y="265.87" width="0.8" height="3.6" fill="#fff" opacity="0.5"/><rect x="420.49" y="265.95" width="0.8" height="3.6" fill="#fff" opacity="0.5"/><rect x="422.59" y="266.03" width="0.8" height="3.6" fill="#fff" opacity="0.5"/><rect x="424.69" y="266.11" width="0.8" height="3.6" fill="#fff" opacity="0.5"/><rect x="426.79" y="266.19" width="0.8" height="3.6" fill="#fff" opacity="0.5"/><rect x="428.89" y="266.27" width="0.8" height="3.6" fill="#fff" opacity="0.5"/><rect x="430.99" y="266.35" width="0.8" height="3.6" fill="#fff" opacity="0.5"/><rect x="433.09" y="266.43" width="0.8" height="3.6" fill="#fff" opacity="0.5"/><rect x="435.19" y="266.51" width="0.8" height="3.6" fill="#fff" opacity="0.5"/><rect x="437.29" y="266.59" width="0.8" height="3.6" fill="#fff" opacity="0.5"/><rect x="439.39" y="266.67" width="0.8" height="3.6" fill="#fff" opacity="0.5"/><rect x="441.49" y="266.08" width="0.8" height="3.6" fill="#fff" opacity="0.5"/><rect x="500.77" y="264.70" width="0.8" height="3.6" fill="#fff" opacity="0.5"/><rect x="502.87" y="264.78" width="0.8" height="3.6" fill="#fff" opacity="0.5"/><rect x="504.97" y="264.86" width="0.8" height="3.6" fill="#fff" opacity="0.5"/><rect x="507.07" y="264.93" width="0.8" height="3.6" fill="#fff" opacity="0.5"/><rect x="509.17" y="265.01" width="0.8" height="3.6" fill="#fff" opacity="0.5"/><rect x="511.27" y="265.09" width="0.8" height="3.6" fill="#fff" opacity="0.5"/><rect x="513.37" y="265.17" width="0.8" height="3.6" fill="#fff" opacity="0.5"/><rect x="515.47" y="265.24" width="0.8" height="3.6" fill="#fff" opacity="0.5"/><rect x="517.57" y="265.32" width="0.8" height="3.6" fill="#fff" opacity="0.5"/><rect x="519.67" y="265.40" width="0.8" height="3.6" fill="#fff" opacity="0.5"/><rect x="521.77" y="265.48" width="0.8" height="3.6" fill="#fff" opacity="0.5"/><rect x="523.87" y="265.55" width="0.8" height="3.6" fill="#fff" opacity="0.5"/><rect x="525.97" y="265.63" width="0.8" height="3.6" fill="#fff" opacity="0.5"/><rect x="528.07" y="265.71" width="0.8" height="3.6" fill="#fff" opacity="0.5"/><rect x="530.17" y="265.79" width="0.8" height="3.6" fill="#fff" opacity="0.5"/><rect x="532.27" y="265.86" width="0.8" height="3.6" fill="#fff" opacity="0.5"/><rect x="534.37" y="265.93" width="0.8" height="3.6" fill="#fff" opacity="0.5"/><rect x="536.47" y="266.00" width="0.8" height="3.6" fill="#fff" opacity="0.5"/><rect x="538.57" y="266.06" width="0.8" height="3.6" fill="#fff" opacity="0.5"/><rect x="540.67" y="266.13" width="0.8" height="3.6" fill="#fff" opacity="0.5"/><rect x="542.77" y="266.19" width="0.8" height="3.6" fill="#fff" opacity="0.5"/><rect x="544.87" y="266.25" width="0.8" height="3.6" fill="#fff" opacity="0.5"/><rect x="546.97" y="266.32" width="0.8" height="3.6" fill="#fff" opacity="0.5"/><rect x="549.07" y="266.38" width="0.8" height="3.6" fill="#fff" opacity="0.5"/><rect x="551.17" y="266.44" width="0.8" height="3.6" fill="#fff" opacity="0.5"/><rect x="553.27" y="266.51" width="0.8" height="3.6" fill="#fff" opacity="0.5"/><rect x="555.37" y="266.57" width="0.8" height="3.6" fill="#fff" opacity="0.5"/><rect x="557.47" y="266.63" width="0.8" height="3.6" fill="#fff" opacity="0.5"/><rect x="559.57" y="266.70" width="0.8" height="3.6" fill="#fff" opacity="0.5"/><rect x="561.67" y="266.76" width="0.8" height="3.6" fill="#fff" opacity="0.5"/><rect x="563.77" y="266.47" width="0.8" height="3.6" fill="#fff" opacity="0.5"/><rect x="565.87" y="265.62" width="0.8" height="3.6" fill="#fff" opacity="0.5"/>
</g>
<defs><symbol id="pm" overflow="visible"><path d="M0.00,-4.90 L4.66,-1.51 L2.88,3.96 L-2.88,3.96 L-4.66,-1.51 Z" fill="#fff" stroke="#5563b6" stroke-width="0.9"/><path d="M0,-4.90 L4.66,-1.51 L4.17,0 L-4.17,0 L-4.66,-1.51 Z" fill="#5563b6" stroke="#5563b6" stroke-width="0.9" stroke-linejoin="round"/></symbol></defs>
<use href="#pm" x="51.80" y="189.70"/>
<use href="#pm" x="55.50" y="190.30"/>
<use href="#pm" x="64.60" y="191.90"/>
<use href="#pm" x="72.90" y="194.30"/>
<use href="#pm" x="82.40" y="194.30"/>
<use href="#pm" x="94.00" y="195.30"/>
<use href="#pm" x="135.50" y="197.40"/>
<use href="#pm" x="146.20" y="193.40"/>
<use href="#pm" x="157.10" y="191.50"/>
<use href="#pm" x="173.20" y="193.70"/>
<use href="#pm" x="185.10" y="198.50"/>
<use href="#pm" x="196.10" y="199.10"/>
<use href="#pm" x="207.20" y="198.50"/>
<use href="#pm" x="216.50" y="194.90"/>
<use href="#pm" x="247.30" y="193.10"/>
<use href="#pm" x="259.30" y="195.40"/>
<use href="#pm" x="270.20" y="197.50"/>
<use href="#pm" x="282.00" y="202.30"/>
<use href="#pm" x="292.80" y="199.40"/>
<use href="#pm" x="313.00" y="201.60"/>
<use href="#pm" x="324.40" y="196.50"/>
<use href="#pm" x="331.70" y="199.40"/>
<use href="#pm" x="379.90" y="200.40"/>
<use href="#pm" x="401.80" y="198.60"/>
<use href="#pm" x="423.70" y="199.40"/>
<use href="#pm" x="434.20" y="197.60"/>
<use href="#pm" x="447.80" y="194.50"/>
<use href="#pm" x="502.70" y="201.60"/>
<use href="#pm" x="514.00" y="200.10"/>
<use href="#pm" x="535.90" y="199.70"/>
<use href="#pm" x="557.80" y="200.40"/>
<use href="#pm" x="567.30" y="200.10"/>
<use href="#pm" x="577.90" y="195.00"/>
<use href="#pm" x="626.10" y="200.70"/>
<rect x="46.5" y="174" width="584" height="158.5" fill="none" stroke="#222" stroke-width="1.3"/>
<path d="M46.5,332.50 h-7 M46.5,316.65 h-3.8 M46.5,300.80 h-7 M46.5,284.95 h-3.8 M46.5,269.10 h-7 M46.5,253.25 h-3.8 M46.5,237.40 h-7 M46.5,221.55 h-3.8 M46.5,205.70 h-7 M46.5,189.85 h-3.8 M46.5,174.00 h-7 M630.5,260.20 h7.7 M630.5,242.19 h4.7 M630.5,224.17 h7.7 M630.5,206.16 h4.7 M630.5,188.15 h7.7 M46.50,332.5 v7.3 M73.54,332.5 v4.2 M100.58,332.5 v7.3 M127.62,332.5 v4.2 M154.66,332.5 v7.3 M181.70,332.5 v4.2 M208.74,332.5 v7.3 M235.78,332.5 v4.2 M262.82,332.5 v7.3 M289.86,332.5 v4.2 M316.90,332.5 v7.3 M343.94,332.5 v4.2 M370.98,332.5 v7.3 M398.02,332.5 v4.2 M425.06,332.5 v7.3 M452.10,332.5 v4.2 M479.14,332.5 v7.3 M506.18,332.5 v4.2 M533.22,332.5 v7.3 M560.26,332.5 v4.2 M587.30,332.5 v7.3 M614.34,332.5 v4.2" stroke="#222" stroke-width="1.2"/>
<text x="33.9" y="337.10" font-size="13.2" text-anchor="end" fill="#e27a8c" font-family="Liberation Serif" font-weight="bold">0</text>
<text x="33.9" y="305.40" font-size="13.2" text-anchor="end" fill="#e27a8c" font-family="Liberation Serif" font-weight="bold">2</text>
<text x="33.9" y="273.70" font-size="13.2" text-anchor="end" fill="#e27a8c" font-family="Liberation Serif" font-weight="bold">4</text>
<text x="33.9" y="242.00" font-size="13.2" text-anchor="end" fill="#e27a8c" font-family="Liberation Serif" font-weight="bold">6</text>
<text x="33.9" y="210.30" font-size="13.2" text-anchor="end" fill="#e27a8c" font-family="Liberation Serif" font-weight="bold">8</text>
<text x="33.9" y="178.60" font-size="13.2" text-anchor="end" fill="#e27a8c" font-family="Liberation Serif" font-weight="bold">10</text>
<text x="643.7" y="264.80" font-size="13.2" fill="#5b67b2" font-family="Liberation Serif" font-weight="bold">0</text>
<text x="643.7" y="228.77" font-size="13.2" fill="#5b67b2" font-family="Liberation Serif" font-weight="bold">50</text>
<text x="643.7" y="192.75" font-size="13.2" fill="#5b67b2" font-family="Liberation Serif" font-weight="bold">100</text>
<text x="46.50" y="355.1" font-size="13.2" text-anchor="middle" font-family="Liberation Serif" font-weight="bold">0</text>
<text x="100.58" y="355.1" font-size="13.2" text-anchor="middle" font-family="Liberation Serif" font-weight="bold">10</text>
<text x="154.66" y="355.1" font-size="13.2" text-anchor="middle" font-family="Liberation Serif" font-weight="bold">20</text>
<text x="208.74" y="355.1" font-size="13.2" text-anchor="middle" font-family="Liberation Serif" font-weight="bold">30</text>
<text x="262.82" y="355.1" font-size="13.2" text-anchor="middle" font-family="Liberation Serif" font-weight="bold">40</text>
<text x="316.90" y="355.1" font-size="13.2" text-anchor="middle" font-family="Liberation Serif" font-weight="bold">50</text>
<text x="370.98" y="355.1" font-size="13.2" text-anchor="middle" font-family="Liberation Serif" font-weight="bold">60</text>
<text x="425.06" y="355.1" font-size="13.2" text-anchor="middle" font-family="Liberation Serif" font-weight="bold">70</text>
<text x="479.14" y="355.1" font-size="13.2" text-anchor="middle" font-family="Liberation Serif" font-weight="bold">80</text>
<text x="533.22" y="355.1" font-size="13.2" text-anchor="middle" font-family="Liberation Serif" font-weight="bold">90</text>
<text x="587.30" y="355.1" font-size="13.2" text-anchor="middle" font-family="Liberation Serif" font-weight="bold">100</text>
<text x="357.2" y="378.2" font-size="19.6" text-anchor="middle" font-family="Liberation Serif" font-weight="bold">Time (h)</text>
<text transform="translate(15.8,263.5) rotate(-90)" font-size="20.2" text-anchor="middle" fill="#e27a8c" font-family="Liberation Serif" font-weight="bold">Voltage (V)</text>
<text transform="translate(678.2,227.6) rotate(-90)" font-size="19" text-anchor="middle" fill="#5b67b2" font-family="Liberation Serif" font-weight="bold">FE (%)</text>
<text x="208.4" y="224" font-size="9.6" text-anchor="middle" font-family="Liberation Serif" font-weight="bold">Replace</text>
<text x="209.7" y="235.8" font-size="9.6" text-anchor="middle" font-family="Liberation Serif" font-weight="bold">anode electrolyte</text>
<text x="473.2" y="297.3" font-size="11.4" text-anchor="middle" font-family="Liberation Serif" font-weight="bold">Overnight</text>
<path d="M133.6,236.2 V250.89999999999998" stroke="#333" stroke-width="0.8"/>
<path d="M131.1,248.89999999999998 L136.1,248.89999999999998 L133.6,258.9 Z" fill="#111"/>
<path d="M203.4,238 V252.7" stroke="#333" stroke-width="0.8"/>
<path d="M200.9,250.7 L205.9,250.7 L203.4,260.7 Z" fill="#111"/>
<path d="M312.8,236 V250.89999999999998" stroke="#333" stroke-width="0.8"/>
<path d="M310.3,248.89999999999998 L315.3,248.89999999999998 L312.8,258.9 Z" fill="#111"/>
<path d="M442.4,239.4 V252.7" stroke="#333" stroke-width="0.8"/>
<path d="M439.9,250.7 L444.9,250.7 L442.4,260.7 Z" fill="#111"/>
<path d="M565.5,237.8 V253.2" stroke="#333" stroke-width="0.8"/>
<path d="M563.0,251.2 L568.0,251.2 L565.5,261.2 Z" fill="#111"/>
<path d="M86.5,273.2 V284.6 M132.5,273.2 V284.6" stroke="#777" stroke-width="0.9"/>
<path d="M88.5,278.9 H130.5" stroke="#222" stroke-width="0.9"/>
<path d="M86.5,278.9 L96.0,276.09999999999997 L93.0,278.9 L96.0,281.7 Z M132.5,278.9 L123.0,276.09999999999997 L126.0,278.9 L123.0,281.7 Z" fill="#111"/>
<path d="M213.3,273.2 V284.6 M245.5,273.2 V284.6" stroke="#777" stroke-width="0.9"/>
<path d="M215.3,280.6 H243.5" stroke="#222" stroke-width="0.9"/>
<path d="M213.3,280.6 L222.8,277.8 L219.8,280.6 L222.8,283.40000000000003 Z M245.5,280.6 L236.0,277.8 L239.0,280.6 L236.0,283.40000000000003 Z" fill="#111"/>
<path d="M329.5,273.2 V284.6 M376.2,273.2 V284.6" stroke="#777" stroke-width="0.9"/>
<path d="M331.5,279.4 H374.2" stroke="#222" stroke-width="0.9"/>
<path d="M329.5,279.4 L339.0,276.59999999999997 L336.0,279.4 L339.0,282.2 Z M376.2,279.4 L366.7,276.59999999999997 L369.7,279.4 L366.7,282.2 Z" fill="#111"/>
<path d="M445.3,273.2 V284.6 M498.2,273.2 V284.6" stroke="#777" stroke-width="0.9"/>
<path d="M447.3,279.9 H496.2" stroke="#222" stroke-width="0.9"/>
<path d="M445.3,279.9 L454.8,277.09999999999997 L451.8,279.9 L454.8,282.7 Z M498.2,279.9 L488.7,277.09999999999997 L491.7,279.9 L488.7,282.7 Z" fill="#111"/>
<path d="M575.6,273.2 V284.6" stroke="#777" stroke-width="0.9"/>
<path d="M577.6,279.6 H625.5" stroke="#222" stroke-width="0.9"/>
<path d="M575.6,279.6 L585.1,276.8 L582.1,279.6 L585.1,282.40000000000003 Z M627.5,279.6 L618.0,276.8 L621.0,279.6 L618.0,282.40000000000003 Z" fill="#111"/>
</g>
</svg></body></html>
